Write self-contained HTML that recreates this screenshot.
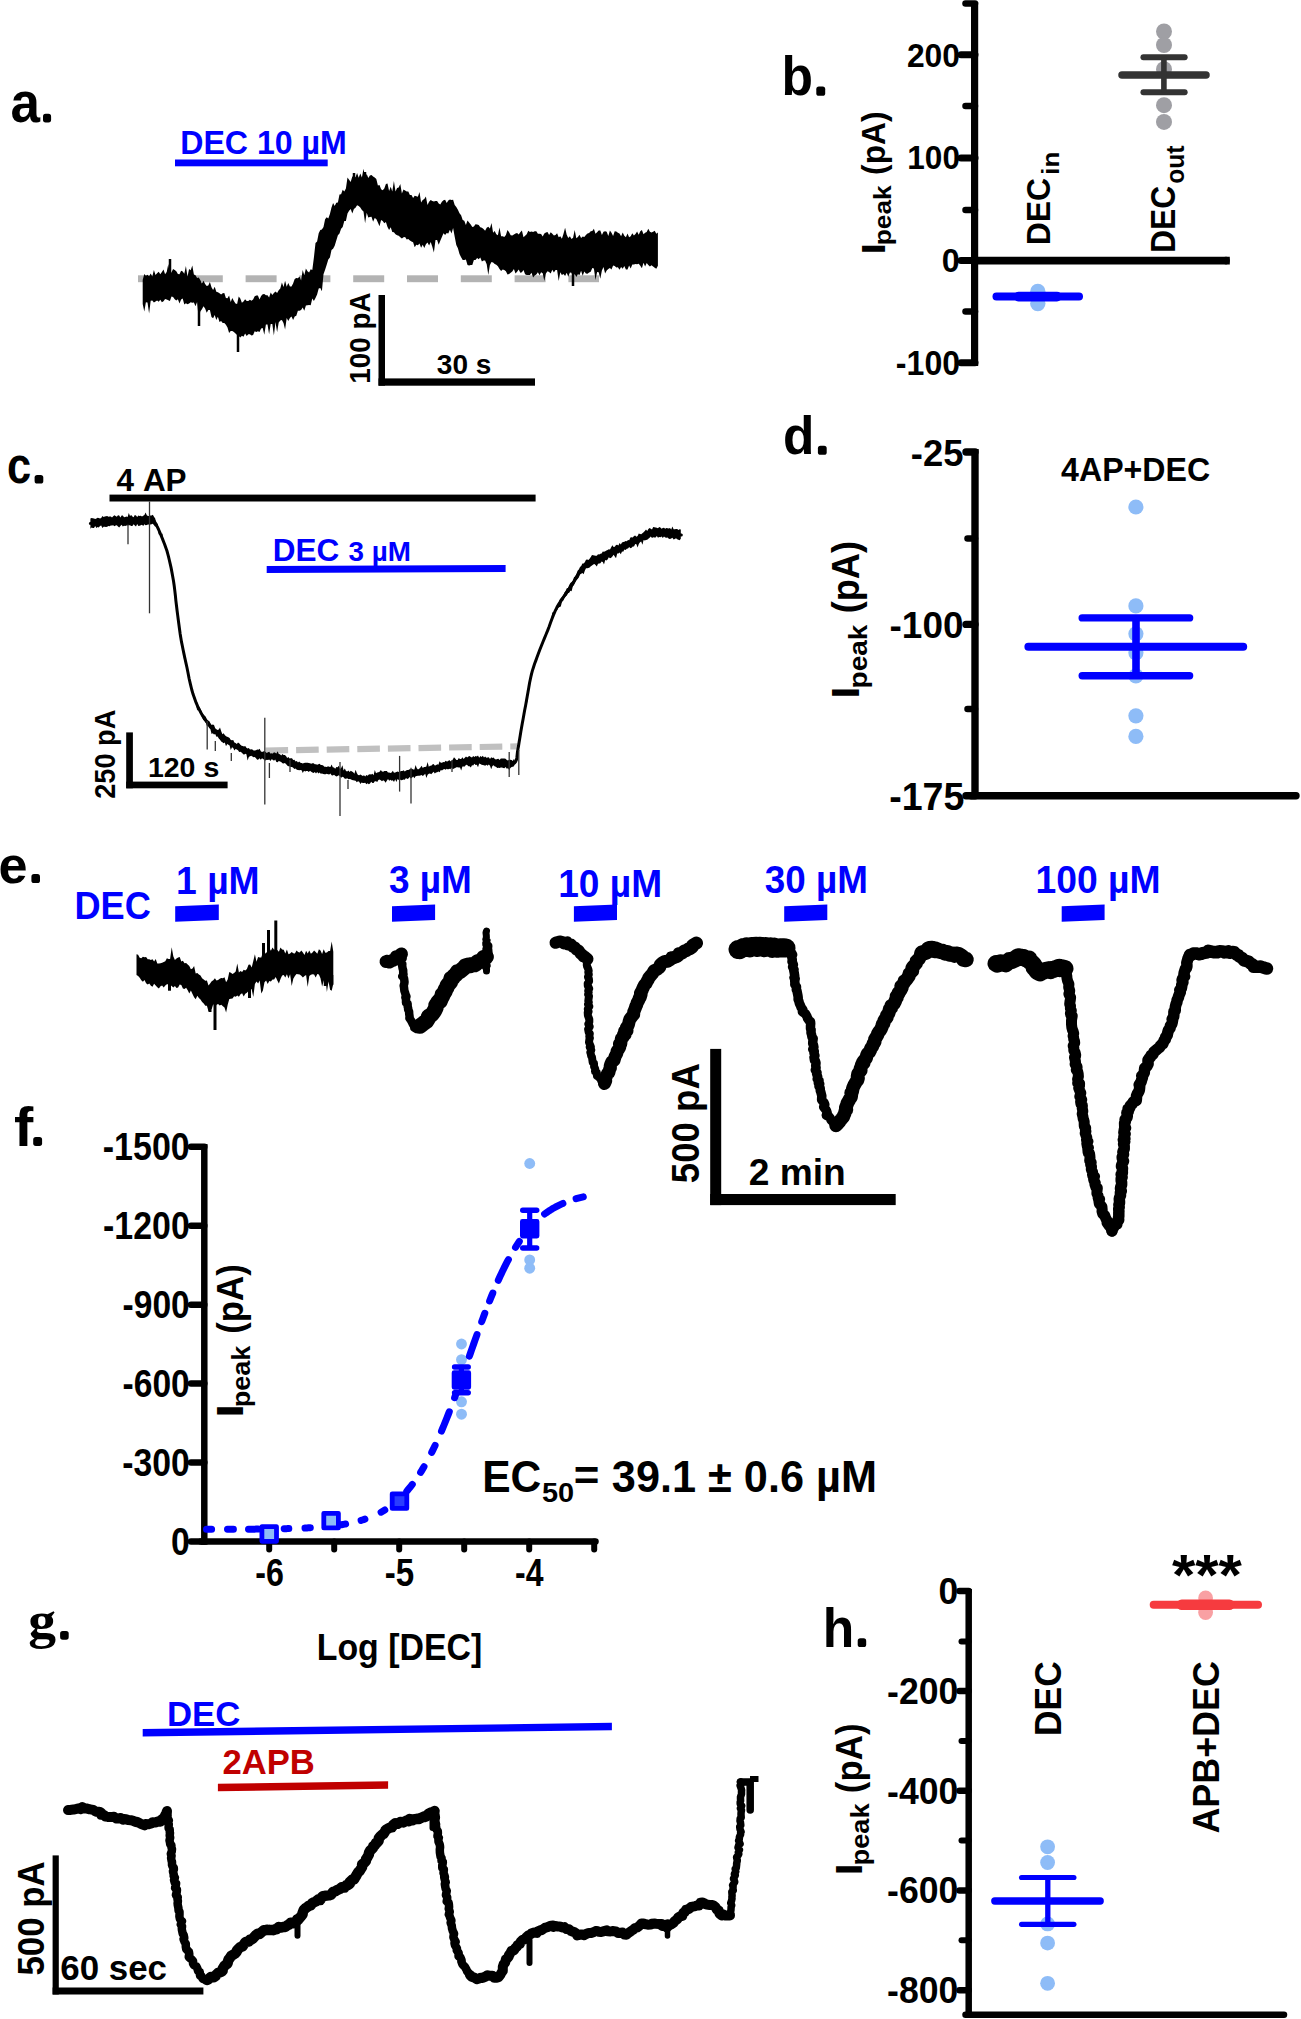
<!DOCTYPE html>
<html><head><meta charset="utf-8"><style>html,body{margin:0;padding:0;background:#fff;}svg{display:block;}</style></head>
<body>
<svg width="1301" height="2019" viewBox="0 0 1301 2019">
<rect width="1301" height="2019" fill="#fff"/>
<text font-family="Liberation Sans" font-weight="bold" font-size="57.50" fill="#000" style="font-kerning:none" transform="translate(10.55,121.84) scale(0.9231,1)">a</text>
<rect x="43" y="113.8" width="8.10" height="8.60" rx="2.6" fill="#000"/>
<text font-family="Liberation Sans" font-weight="bold" font-size="32.34" fill="#0000ff" style="font-kerning:none" transform="translate(180.25,153.98) scale(0.9933,1)">DEC 10 µM</text>
<rect x="175" y="159.5" width="152.7" height="6.800000000000011" fill="#0000ff"/>
<rect x="138.0" y="275.3" width="31.0" height="6.899999999999977" fill="#b3b3b3"/>
<rect x="191.8" y="275.3" width="31.0" height="6.899999999999977" fill="#b3b3b3"/>
<rect x="245.6" y="275.3" width="31.00000000000003" height="6.899999999999977" fill="#b3b3b3"/>
<rect x="299.4" y="275.3" width="31.0" height="6.899999999999977" fill="#b3b3b3"/>
<rect x="353.2" y="275.3" width="31.0" height="6.899999999999977" fill="#b3b3b3"/>
<rect x="407.0" y="275.3" width="31.0" height="6.899999999999977" fill="#b3b3b3"/>
<rect x="460.79999999999995" y="275.3" width="31.0" height="6.899999999999977" fill="#b3b3b3"/>
<rect x="514.5999999999999" y="275.3" width="31.0" height="6.899999999999977" fill="#b3b3b3"/>
<rect x="568.4" y="275.3" width="30.600000000000023" height="6.899999999999977" fill="#b3b3b3"/>
<polygon points="142.7,279.9 144.3,273.9 145.9,275.8 147.5,274.8 149.1,276.2 150.7,273.6 152.3,276.4 153.9,270.1 155.5,275.0 157.1,273.3 158.7,271.7 160.3,274.3 161.9,272.1 163.5,269.5 165.1,274.2 166.7,272.1 168.3,264.0 169.9,274.0 171.5,272.2 173.1,269.0 174.7,270.0 176.3,271.3 177.9,274.0 179.5,274.3 181.1,270.7 182.7,271.4 184.3,273.7 185.9,266.1 187.5,276.5 189.1,268.9 190.7,270.3 192.3,265.4 193.9,274.6 195.5,275.2 197.1,278.1 198.7,277.5 200.3,279.9 201.9,283.5 203.5,280.7 205.1,284.0 206.7,286.1 208.3,285.5 209.9,282.1 211.5,287.2 213.1,290.1 214.7,286.7 216.3,291.8 217.9,292.3 219.5,293.3 221.1,294.5 222.7,293.3 224.3,293.0 225.9,298.0 227.5,298.2 229.1,295.5 230.7,301.9 232.3,298.1 233.9,301.0 235.5,303.5 237.1,304.1 238.7,296.4 240.3,298.6 241.9,302.7 243.5,301.4 245.1,299.3 246.7,300.9 248.3,301.0 249.9,299.7 251.5,300.7 253.1,299.4 254.7,296.3 256.3,295.5 257.9,295.6 259.5,299.4 261.1,296.1 262.7,294.3 264.3,294.1 265.9,295.2 267.5,295.2 269.1,297.4 270.7,292.5 272.3,295.1 273.9,293.0 275.5,291.4 277.1,293.0 278.7,290.3 280.3,288.4 281.9,282.4 283.5,286.9 285.1,280.8 286.7,286.7 288.3,283.1 289.9,286.6 291.5,286.6 293.1,283.5 294.7,279.1 296.3,278.1 297.9,278.3 299.5,276.5 301.1,280.4 302.7,270.0 304.3,275.3 305.9,268.4 307.5,271.2 309.1,272.5 310.7,269.3 312.3,270.0 313.9,257.6 315.5,243.1 317.1,241.4 318.7,233.3 320.3,230.0 321.9,229.6 323.5,226.9 325.1,219.3 326.7,217.3 328.3,218.6 329.9,214.0 331.5,207.4 333.1,202.9 334.7,206.1 336.3,202.8 337.9,202.6 339.5,194.5 341.1,194.2 342.7,189.8 344.3,191.5 345.9,188.5 347.5,177.5 349.1,179.7 350.7,181.9 352.3,176.5 353.9,176.5 355.5,177.2 357.1,172.9 358.7,177.7 360.3,173.5 361.9,177.4 363.5,168.7 365.1,177.5 366.7,174.0 368.3,177.9 369.9,175.5 371.5,174.9 373.1,176.5 374.7,177.6 376.3,179.0 377.9,185.4 379.5,184.9 381.1,189.2 382.7,190.2 384.3,188.4 385.9,184.0 387.5,183.5 389.1,191.0 390.7,186.7 392.3,191.6 393.9,181.1 395.5,191.6 397.1,188.0 398.7,187.4 400.3,183.9 401.9,193.5 403.5,189.6 405.1,190.4 406.7,191.5 408.3,191.4 409.9,195.1 411.5,195.0 413.1,197.9 414.7,195.7 416.3,196.3 417.9,196.8 419.5,192.1 421.1,202.6 422.7,200.0 424.3,198.9 425.9,196.4 427.5,205.1 429.1,201.7 430.7,200.1 432.3,201.1 433.9,201.4 435.5,201.1 437.1,201.0 438.7,203.5 440.3,204.5 441.9,201.7 443.5,200.2 445.1,199.7 446.7,203.1 448.3,200.5 449.9,199.6 451.5,200.1 453.1,199.7 454.7,205.0 456.3,207.0 457.9,209.8 459.5,213.2 461.1,215.2 462.7,220.0 464.3,220.8 465.9,224.9 467.5,220.4 469.1,222.5 470.7,224.4 472.3,227.1 473.9,226.5 475.5,224.3 477.1,224.6 478.7,224.9 480.3,227.3 481.9,227.7 483.5,228.9 485.1,230.7 486.7,227.8 488.3,226.8 489.9,228.5 491.5,223.1 493.1,232.8 494.7,231.1 496.3,234.3 497.9,235.2 499.5,227.4 501.1,236.3 502.7,236.2 504.3,237.0 505.9,235.1 507.5,230.0 509.1,232.2 510.7,235.3 512.3,235.5 513.9,234.6 515.5,233.4 517.1,233.1 518.7,234.6 520.3,232.2 521.9,230.4 523.5,237.3 525.1,235.8 526.7,234.2 528.3,230.7 529.9,231.9 531.5,231.6 533.1,232.1 534.7,231.3 536.3,231.2 537.9,233.8 539.5,233.7 541.1,234.1 542.7,236.5 544.3,233.4 545.9,232.5 547.5,231.9 549.1,235.0 550.7,232.3 552.3,233.8 553.9,235.4 555.5,234.9 557.1,233.2 558.7,237.3 560.3,236.3 561.9,238.8 563.5,233.7 565.1,227.7 566.7,234.8 568.3,238.1 569.9,236.3 571.5,239.0 573.1,237.8 574.7,230.1 576.3,238.2 577.9,236.9 579.5,234.7 581.1,237.9 582.7,236.6 584.3,237.0 585.9,235.0 587.5,233.6 589.1,232.9 590.7,231.3 592.3,230.9 593.9,228.8 595.5,233.8 597.1,232.2 598.7,230.4 600.3,230.6 601.9,234.9 603.5,231.7 605.1,231.2 606.7,231.7 608.3,235.9 609.9,230.6 611.5,232.7 613.1,236.1 614.7,231.2 616.3,231.4 617.9,232.8 619.5,233.5 621.1,236.2 622.7,232.5 624.3,235.8 625.9,237.3 627.5,233.6 629.1,237.3 630.7,236.3 632.3,233.3 633.9,235.4 635.5,234.0 637.1,231.5 638.7,234.7 640.3,231.2 641.9,230.0 643.5,234.2 645.1,232.8 646.7,232.1 648.3,228.7 649.9,231.7 651.5,232.5 653.1,231.7 654.7,230.7 656.3,233.8 657.9,232.5 657.9,265.7 656.3,268.7 654.7,267.7 653.1,266.6 651.5,265.3 649.9,266.5 648.3,264.9 646.7,262.9 645.1,266.4 643.5,262.8 641.9,268.3 640.3,265.8 638.7,263.8 637.1,264.2 635.5,264.0 633.9,264.5 632.3,264.6 630.7,268.4 629.1,265.4 627.5,269.4 625.9,269.4 624.3,266.1 622.7,268.7 621.1,267.0 619.5,269.7 617.9,267.3 616.3,267.5 614.7,266.1 613.1,265.6 611.5,269.6 609.9,268.1 608.3,268.9 606.7,270.4 605.1,273.5 603.5,267.1 601.9,270.4 600.3,278.7 598.7,272.2 597.1,272.1 595.5,279.9 593.9,268.4 592.3,267.9 590.7,271.7 589.1,272.6 587.5,273.8 585.9,273.4 584.3,271.6 582.7,275.8 581.1,270.7 579.5,274.9 577.9,274.2 576.3,277.1 574.7,273.9 573.1,277.4 571.5,272.7 569.9,272.6 568.3,276.8 566.7,272.8 565.1,275.9 563.5,274.1 561.9,274.9 560.3,272.3 558.7,281.0 557.1,270.0 555.5,269.9 553.9,272.6 552.3,269.8 550.7,273.6 549.1,271.9 547.5,271.3 545.9,273.4 544.3,281.1 542.7,273.2 541.1,272.2 539.5,275.2 537.9,272.2 536.3,274.6 534.7,275.4 533.1,277.4 531.5,272.7 529.9,274.9 528.3,275.0 526.7,275.1 525.1,274.2 523.5,270.0 521.9,272.2 520.3,272.8 518.7,269.6 517.1,271.8 515.5,273.6 513.9,269.1 512.3,271.6 510.7,272.8 509.1,274.0 507.5,274.4 505.9,271.3 504.3,270.1 502.7,269.6 501.1,271.0 499.5,269.1 497.9,266.3 496.3,264.8 494.7,263.9 493.1,262.6 491.5,262.0 489.9,264.9 488.3,275.0 486.7,264.2 485.1,260.4 483.5,260.5 481.9,261.4 480.3,257.5 478.7,259.3 477.1,257.9 475.5,259.9 473.9,260.1 472.3,265.0 470.7,265.0 469.1,265.6 467.5,264.9 465.9,259.6 464.3,260.0 462.7,260.1 461.1,257.2 459.5,254.0 457.9,248.3 456.3,244.9 454.7,236.8 453.1,227.9 451.5,233.5 449.9,229.7 448.3,233.5 446.7,233.1 445.1,234.9 443.5,233.2 441.9,237.0 440.3,240.8 438.7,244.7 437.1,239.9 435.5,239.9 433.9,252.5 432.3,246.7 430.7,242.0 429.1,245.4 427.5,242.6 425.9,244.2 424.3,247.9 422.7,244.8 421.1,247.8 419.5,243.5 417.9,245.3 416.3,244.7 414.7,247.3 413.1,242.2 411.5,241.4 409.9,240.6 408.3,238.9 406.7,239.5 405.1,237.0 403.5,237.3 401.9,238.6 400.3,237.2 398.7,235.7 397.1,235.3 395.5,234.2 393.9,232.3 392.3,232.0 390.7,227.2 389.1,230.0 387.5,226.9 385.9,222.1 384.3,223.3 382.7,221.0 381.1,219.9 379.5,226.3 377.9,222.5 376.3,218.9 374.7,218.1 373.1,221.8 371.5,216.7 369.9,216.9 368.3,217.6 366.7,212.8 365.1,223.3 363.5,211.5 361.9,210.0 360.3,207.6 358.7,205.9 357.1,205.2 355.5,207.8 353.9,209.0 352.3,213.4 350.7,208.9 349.1,210.8 347.5,213.4 345.9,220.9 344.3,221.0 342.7,227.1 341.1,228.8 339.5,233.4 337.9,235.3 336.3,240.6 334.7,245.8 333.1,248.8 331.5,250.1 329.9,257.5 328.3,259.6 326.7,264.7 325.1,269.7 323.5,274.2 321.9,291.3 320.3,287.9 318.7,288.6 317.1,294.6 315.5,298.0 313.9,301.0 312.3,298.4 310.7,305.3 309.1,304.9 307.5,305.3 305.9,305.4 304.3,310.8 302.7,307.6 301.1,310.0 299.5,310.7 297.9,310.8 296.3,315.7 294.7,316.4 293.1,319.9 291.5,316.6 289.9,317.9 288.3,321.1 286.7,318.1 285.1,329.4 283.5,323.0 281.9,320.1 280.3,320.6 278.7,322.5 277.1,332.2 275.5,321.9 273.9,335.4 272.3,324.1 270.7,323.9 269.1,334.3 267.5,324.5 265.9,324.6 264.3,334.8 262.7,327.9 261.1,328.6 259.5,332.1 257.9,331.3 256.3,331.9 254.7,331.3 253.1,335.1 251.5,335.5 249.9,334.2 248.3,334.3 246.7,336.1 245.1,333.5 243.5,336.8 241.9,335.7 240.3,337.4 238.7,336.0 237.1,335.0 235.5,333.6 233.9,332.0 232.3,330.9 230.7,331.0 229.1,332.9 227.5,327.6 225.9,324.8 224.3,323.1 222.7,323.1 221.1,321.1 219.5,322.1 217.9,316.8 216.3,320.1 214.7,314.9 213.1,318.2 211.5,316.9 209.9,310.1 208.3,310.1 206.7,312.7 205.1,308.4 203.5,306.3 201.9,309.3 200.3,311.6 198.7,318.5 197.1,302.1 195.5,306.3 193.9,302.4 192.3,302.7 190.7,302.2 189.1,303.6 187.5,304.3 185.9,303.2 184.3,304.6 182.7,298.6 181.1,299.6 179.5,303.6 177.9,299.3 176.3,300.6 174.7,299.3 173.1,297.0 171.5,296.4 169.9,301.0 168.3,300.3 166.7,299.4 165.1,298.9 163.5,301.3 161.9,302.2 160.3,299.7 158.7,301.7 157.1,300.4 155.5,301.5 153.9,302.5 152.3,300.6 150.7,300.7 149.1,313.5 147.5,302.4 145.9,302.2 144.3,311.4 142.7,303.9" fill="#000"/>
<line x1="170" y1="259" x2="170" y2="275" stroke="#000" stroke-width="2.5" stroke-linecap="butt"/>
<line x1="199" y1="300" x2="199" y2="326" stroke="#000" stroke-width="2.5" stroke-linecap="butt"/>
<line x1="238" y1="320" x2="238" y2="352" stroke="#000" stroke-width="2.5" stroke-linecap="butt"/>
<line x1="573" y1="265" x2="573" y2="286" stroke="#000" stroke-width="2.5" stroke-linecap="butt"/>
<line x1="354" y1="173" x2="354" y2="190" stroke="#000" stroke-width="2.5" stroke-linecap="butt"/>
<line x1="365" y1="172" x2="365" y2="190" stroke="#000" stroke-width="2.5" stroke-linecap="butt"/>
<rect x="378.5" y="295" width="6.5" height="90.69999999999999" fill="#000"/>
<rect x="378.5" y="378.4" width="156.5" height="7.300000000000011" fill="#000"/>
<text font-family="Liberation Sans" font-weight="bold" font-size="28.81" fill="#000" style="font-kerning:none" transform="translate(370.22,383.75) rotate(-90) scale(0.9661,1)">100 pA</text>
<text font-family="Liberation Sans" font-weight="bold" font-size="28.47" fill="#000" style="font-kerning:none" transform="translate(436.86,373.98) scale(0.9852,1)">30 s</text>
<text font-family="Liberation Sans" font-weight="bold" font-size="54.74" fill="#000" style="font-kerning:none" transform="translate(781.60,95.27) scale(0.9426,1)">b</text>
<rect x="816.3" y="86.6" width="8.90" height="9.20" rx="2.6" fill="#000"/>
<line x1="974.6" y1="2" x2="974.6" y2="366" stroke="#000" stroke-width="7.2" stroke-linecap="butt"/>
<line x1="961" y1="54.7" x2="975" y2="54.7" stroke="#000" stroke-width="7" stroke-linecap="round"/>
<line x1="961" y1="158" x2="975" y2="158" stroke="#000" stroke-width="7" stroke-linecap="round"/>
<line x1="961" y1="260.6" x2="975" y2="260.6" stroke="#000" stroke-width="7" stroke-linecap="round"/>
<line x1="961" y1="362.7" x2="975" y2="362.7" stroke="#000" stroke-width="7" stroke-linecap="round"/>
<line x1="965.5" y1="3.5" x2="975" y2="3.5" stroke="#000" stroke-width="6.5" stroke-linecap="round"/>
<line x1="965.5" y1="106" x2="975" y2="106" stroke="#000" stroke-width="6.5" stroke-linecap="round"/>
<line x1="965.5" y1="210" x2="975" y2="210" stroke="#000" stroke-width="6.5" stroke-linecap="round"/>
<line x1="965.5" y1="311.5" x2="975" y2="311.5" stroke="#000" stroke-width="6.5" stroke-linecap="round"/>
<text font-family="Liberation Sans" font-weight="bold" font-size="33.47" fill="#000" style="font-kerning:none" transform="translate(906.90,66.77) scale(0.9509,1)">200</text>
<text font-family="Liberation Sans" font-weight="bold" font-size="33.62" fill="#000" style="font-kerning:none" transform="translate(907.31,169.37) scale(0.9393,1)">100</text>
<text font-family="Liberation Sans" font-weight="bold" font-size="33.05" fill="#000" style="font-kerning:none" transform="translate(941.72,272.28) scale(0.9797,1)">0</text>
<text font-family="Liberation Sans" font-weight="bold" font-size="34.30" fill="#000" style="font-kerning:none" transform="translate(895.85,374.70) scale(0.9361,1)">-100</text>
<line x1="971" y1="260.6" x2="1229.8" y2="260.6" stroke="#000" stroke-width="7.6" stroke-linecap="butt"/>
<circle cx="1226" cy="260.6" r="3.8" fill="#000"/>
<text font-family="Liberation Sans" font-weight="bold" font-size="34.01" fill="#000" style="font-kerning:none" transform="translate(884.50,254.59) rotate(-90) scale(1.2247,1)">I</text>
<text font-family="Liberation Sans" font-weight="bold" font-size="23.69" fill="#000" style="font-kerning:none" transform="translate(891.37,245.24) rotate(-90) scale(1.1112,1)">peak</text>
<text font-family="Liberation Sans" font-weight="bold" font-size="34.01" fill="#000" style="font-kerning:none" transform="translate(884.50,174.88) rotate(-90) scale(0.9318,1)">(pA)</text>
<text font-family="Liberation Sans" font-weight="bold" font-size="33.87" fill="#000" style="font-kerning:none" transform="translate(1049.70,245.33) rotate(-90) scale(0.9413,1)">DEC</text>
<text font-family="Liberation Sans" font-weight="bold" font-size="24.56" fill="#000" style="font-kerning:none" transform="translate(1058.50,174.81) rotate(-90) scale(1.0542,1)">in</text>
<text font-family="Liberation Sans" font-weight="bold" font-size="34.30" fill="#000" style="font-kerning:none" transform="translate(1175.00,253.03) rotate(-90) scale(0.9279,1)">DEC</text>
<text font-family="Liberation Sans" font-weight="bold" font-size="25.68" fill="#000" style="font-kerning:none" transform="translate(1183.75,183.86) rotate(-90) scale(0.9611,1)">out</text>
<circle cx="1164" cy="31.5" r="8" fill="#9f9fa4"/>
<circle cx="1164" cy="45" r="8" fill="#9f9fa4"/>
<circle cx="1164" cy="69.2" r="8" fill="#9f9fa4"/>
<circle cx="1164" cy="105.2" r="8" fill="#9f9fa4"/>
<circle cx="1164" cy="121.9" r="8" fill="#9f9fa4"/>
<line x1="1122" y1="75.1" x2="1206" y2="75.1" stroke="#333333" stroke-width="7.5" stroke-linecap="round"/>
<line x1="1143.4" y1="57.3" x2="1184.7" y2="57.3" stroke="#333333" stroke-width="5.9" stroke-linecap="round"/>
<line x1="1143.4" y1="92.3" x2="1184.7" y2="92.3" stroke="#333333" stroke-width="5.9" stroke-linecap="round"/>
<line x1="1163.9" y1="57.3" x2="1163.9" y2="92.3" stroke="#333333" stroke-width="5.6" stroke-linecap="butt"/>
<circle cx="1037.8" cy="291.5" r="7.7" fill="#8ebcf7"/>
<circle cx="1037.8" cy="303.5" r="7.7" fill="#8ebcf7"/>
<line x1="996.5" y1="296.6" x2="1079" y2="296.6" stroke="#0000ff" stroke-width="8" stroke-linecap="round"/>
<line x1="1018.5" y1="296.6" x2="1057" y2="296.6" stroke="#0000ff" stroke-width="9.8" stroke-linecap="round"/>
<text font-family="Liberation Sans" font-weight="bold" font-size="51.29" fill="#000" style="font-kerning:none" transform="translate(7.10,483.00) scale(0.8473,1)">c</text>
<rect x="34.6" y="475" width="8.70" height="8.50" rx="2.6" fill="#000"/>
<text font-family="Liberation Sans" font-weight="bold" font-size="32.12" fill="#000" style="font-kerning:none" transform="translate(116.62,491.00) scale(0.9810,1)">4 AP</text>
<rect x="109.5" y="494.6" width="426.1" height="6.899999999999977" fill="#000"/>
<text font-family="Liberation Sans" font-weight="bold" font-size="32.20" fill="#0000ff" style="font-kerning:none" transform="translate(272.69,560.79) scale(0.9791,1)">DEC</text>
<text font-family="Liberation Sans" font-weight="bold" font-size="27.18" fill="#0000ff" style="font-kerning:none" transform="translate(348.56,560.80) scale(1.0234,1)">3 µM</text>
<polygon points="266.7,565.9 505.6,564.9 505.6,572.1 266.7,573" fill="#0000ff"/>
<line x1="265.5" y1="750.6" x2="288.1" y2="750.2" stroke="#c0c0c0" stroke-width="6.2"/>
<line x1="296.1" y1="750.1" x2="318.7" y2="749.7" stroke="#c0c0c0" stroke-width="6.2"/>
<line x1="326.7" y1="749.6" x2="349.3" y2="749.2" stroke="#c0c0c0" stroke-width="6.2"/>
<line x1="357.3" y1="749.1" x2="379.9" y2="748.7" stroke="#c0c0c0" stroke-width="6.2"/>
<line x1="387.9" y1="748.6" x2="410.5" y2="748.2" stroke="#c0c0c0" stroke-width="6.2"/>
<line x1="418.5" y1="748.1" x2="441.1" y2="747.7" stroke="#c0c0c0" stroke-width="6.2"/>
<line x1="449.1" y1="747.5" x2="471.7" y2="747.2" stroke="#c0c0c0" stroke-width="6.2"/>
<line x1="479.7" y1="747.0" x2="502.3" y2="746.7" stroke="#c0c0c0" stroke-width="6.2"/>
<line x1="510.3" y1="746.5" x2="518.0" y2="746.4" stroke="#c0c0c0" stroke-width="6.2"/>
<polygon points="90.4,518.6 91.6,518.0 92.8,518.2 94.0,518.6 95.2,519.1 96.4,518.5 97.6,517.8 98.8,517.9 100.0,518.5 101.2,517.9 102.4,516.1 103.6,516.9 104.8,516.4 106.0,516.3 107.2,516.0 108.4,516.7 109.6,516.4 110.8,516.6 112.0,517.4 113.2,516.3 114.4,515.3 115.6,516.0 116.8,516.8 118.0,515.3 119.2,515.5 120.4,517.4 121.6,515.4 122.8,515.4 124.0,517.2 125.2,517.1 126.4,516.6 127.6,517.1 128.8,512.9 130.0,516.1 131.2,514.9 132.4,516.5 133.6,517.2 134.8,514.9 136.0,515.6 137.2,516.9 138.4,515.6 139.6,516.0 140.8,515.7 142.0,516.5 143.2,515.7 144.4,515.1 145.6,512.5 146.8,515.3 148.0,516.0 149.2,515.9 150.4,515.4 151.6,515.6 152.8,514.8 154.0,516.8 155.2,518.4 156.4,523.4 157.6,523.8 158.8,529.0 160.0,531.8 161.2,534.3 162.4,533.6 163.6,541.7 164.8,542.6 166.0,546.2 167.2,551.5 168.4,555.5 169.6,560.0 170.8,566.1 172.0,570.5 173.2,578.2 174.4,586.9 175.6,596.3 176.8,607.7 178.0,617.7 179.2,626.1 180.4,633.5 181.6,641.5 182.8,646.6 184.0,653.0 185.2,659.1 186.4,664.8 187.6,669.4 188.8,674.9 190.0,681.4 191.2,685.6 192.4,689.7 193.6,694.8 194.8,698.0 196.0,700.3 197.2,703.4 198.4,705.8 199.6,707.6 200.8,709.4 202.0,712.5 203.2,714.2 204.4,715.6 205.6,716.6 206.8,718.9 208.0,720.6 209.2,721.0 210.4,723.2 211.6,725.0 212.8,724.6 214.0,724.9 215.2,728.3 216.4,729.3 217.6,730.0 218.8,729.5 220.0,727.4 221.2,731.2 222.4,734.2 223.6,733.2 224.8,734.9 226.0,736.2 227.2,736.8 228.4,737.3 229.6,738.0 230.8,740.1 232.0,740.3 233.2,740.1 234.4,742.6 235.6,743.0 236.8,743.9 238.0,742.6 239.2,743.3 240.4,744.8 241.6,745.7 242.8,746.0 244.0,746.6 245.2,746.1 246.4,747.8 247.6,748.6 248.8,748.1 250.0,749.4 251.2,749.2 252.4,749.4 253.6,750.6 254.8,750.6 256.0,750.3 257.2,749.4 258.4,749.8 259.6,748.7 260.8,751.3 262.0,751.9 263.2,751.6 264.4,750.9 265.6,752.1 266.8,753.1 268.0,752.2 269.2,751.8 270.4,753.4 271.6,753.2 272.8,753.5 274.0,752.3 275.2,752.8 276.4,753.6 277.6,751.3 278.8,754.0 280.0,754.3 281.2,755.5 282.4,754.0 283.6,754.9 284.8,755.1 286.0,756.1 287.2,758.0 288.4,757.0 289.6,758.6 290.8,758.2 292.0,758.2 293.2,760.0 294.4,759.8 295.6,761.6 296.8,761.0 298.0,762.6 299.2,761.4 300.4,762.8 301.6,762.9 302.8,763.5 304.0,762.9 305.2,762.7 306.4,762.7 307.6,762.7 308.8,762.9 310.0,763.3 311.2,763.8 312.4,763.3 313.6,763.2 314.8,764.2 316.0,764.3 317.2,764.8 318.4,764.2 319.6,763.7 320.8,765.1 322.0,764.9 323.2,765.4 324.4,766.7 325.6,766.7 326.8,766.9 328.0,766.2 329.2,766.7 330.4,767.0 331.6,764.5 332.8,767.3 334.0,767.4 335.2,768.8 336.4,767.0 337.6,767.3 338.8,765.7 340.0,769.1 341.2,767.9 342.4,765.3 343.6,770.5 344.8,768.6 346.0,771.0 347.2,771.5 348.4,770.4 349.6,772.0 350.8,770.8 352.0,771.5 353.2,772.2 354.4,773.7 355.6,769.8 356.8,773.0 358.0,775.0 359.2,775.3 360.4,774.6 361.6,775.3 362.8,775.9 364.0,775.3 365.2,776.6 366.4,775.1 367.6,775.8 368.8,774.6 370.0,774.3 371.2,774.4 372.4,773.7 373.6,775.2 374.8,769.9 376.0,773.2 377.2,772.6 378.4,772.2 379.6,771.8 380.8,770.1 382.0,771.6 383.2,771.7 384.4,771.0 385.6,771.0 386.8,771.1 388.0,772.6 389.2,772.6 390.4,773.0 391.6,772.5 392.8,770.8 394.0,772.8 395.2,772.5 396.4,772.0 397.6,771.4 398.8,772.1 400.0,771.5 401.2,770.9 402.4,770.9 403.6,770.3 404.8,771.6 406.0,770.5 407.2,769.9 408.4,770.0 409.6,769.2 410.8,769.0 412.0,768.8 413.2,769.6 414.4,769.6 415.6,765.1 416.8,768.3 418.0,769.5 419.2,768.8 420.4,767.5 421.6,765.8 422.8,768.1 424.0,767.1 425.2,767.0 426.4,766.4 427.6,762.0 428.8,766.7 430.0,765.7 431.2,765.8 432.4,764.6 433.6,764.1 434.8,765.6 436.0,765.3 437.2,764.3 438.4,764.7 439.6,761.3 440.8,762.8 442.0,762.8 443.2,762.1 444.4,762.2 445.6,760.8 446.8,761.6 448.0,761.2 449.2,759.9 450.4,761.2 451.6,760.9 452.8,759.4 454.0,757.3 455.2,758.5 456.4,759.9 457.6,760.1 458.8,758.1 460.0,759.1 461.2,759.0 462.4,757.3 463.6,759.1 464.8,757.7 466.0,756.5 467.2,757.6 468.4,756.4 469.6,755.9 470.8,757.0 472.0,757.6 473.2,756.0 474.4,757.0 475.6,756.1 476.8,756.5 478.0,755.4 479.2,757.8 480.4,756.1 481.6,756.9 482.8,755.8 484.0,757.6 485.2,756.6 486.4,757.7 487.6,757.4 488.8,757.3 490.0,758.9 491.2,757.3 492.4,758.0 493.6,757.4 494.8,758.9 496.0,759.6 497.2,758.9 498.4,758.7 499.6,759.9 500.8,758.5 502.0,758.5 503.2,758.6 504.4,758.5 505.6,758.8 506.8,760.1 508.0,760.6 509.2,759.7 510.4,759.7 511.6,760.0 512.8,761.0 514.0,758.8 515.2,761.5 516.4,758.5 517.6,750.2 518.8,743.5 520.0,736.3 521.2,728.4 522.4,721.9 523.6,714.2 524.8,707.3 526.0,702.9 527.2,695.8 528.4,687.6 529.6,681.1 530.8,676.7 532.0,671.2 533.2,666.5 534.4,662.4 535.6,659.0 536.8,655.9 538.0,652.4 539.2,650.6 540.4,646.9 541.6,644.2 542.8,640.3 544.0,639.0 545.2,634.7 546.4,631.1 547.6,628.3 548.8,625.7 550.0,623.9 551.2,619.8 552.4,611.9 553.6,613.8 554.8,609.8 556.0,607.9 557.2,604.8 558.4,603.7 559.6,599.8 560.8,598.3 562.0,597.1 563.2,596.0 564.4,592.6 565.6,591.0 566.8,588.3 568.0,587.9 569.2,584.9 570.4,582.9 571.6,582.1 572.8,580.8 574.0,577.2 575.2,576.2 576.4,574.0 577.6,570.8 578.8,569.4 580.0,566.9 581.2,565.9 582.4,563.4 583.6,563.6 584.8,562.3 586.0,559.8 587.2,559.5 588.4,560.0 589.6,558.8 590.8,557.1 592.0,554.9 593.2,555.3 594.4,555.5 595.6,555.8 596.8,555.7 598.0,554.2 599.2,554.4 600.4,553.7 601.6,553.5 602.8,551.4 604.0,551.8 605.2,551.2 606.4,550.6 607.6,550.1 608.8,549.2 610.0,549.5 611.2,547.3 612.4,545.2 613.6,547.0 614.8,546.7 616.0,545.0 617.2,544.7 618.4,545.6 619.6,543.0 620.8,544.4 622.0,542.6 623.2,542.0 624.4,541.8 625.6,540.9 626.8,541.2 628.0,540.1 629.2,540.2 630.4,537.6 631.6,537.3 632.8,537.4 634.0,536.1 635.2,535.5 636.4,536.7 637.6,536.0 638.8,533.4 640.0,534.1 641.2,534.3 642.4,533.3 643.6,532.2 644.8,531.1 646.0,529.5 647.2,531.0 648.4,529.0 649.6,528.0 650.8,528.7 652.0,529.4 653.2,527.1 654.4,527.3 655.6,527.6 656.8,527.7 658.0,528.3 659.2,527.1 660.4,527.4 661.6,528.8 662.8,528.1 664.0,527.8 665.2,528.7 666.4,528.0 667.6,528.2 668.8,528.5 670.0,528.1 671.2,529.6 672.4,526.5 673.6,529.2 674.8,529.2 676.0,528.9 677.2,529.0 678.4,529.9 679.6,529.2 680.8,529.6 680.8,538.7 679.6,540.3 678.4,539.8 677.2,539.2 676.0,538.2 674.8,538.9 673.6,539.4 672.4,537.8 671.2,538.6 670.0,539.1 668.8,538.8 667.6,537.5 666.4,537.7 665.2,537.6 664.0,536.4 662.8,538.1 661.6,536.4 660.4,537.3 659.2,537.1 658.0,537.7 656.8,535.9 655.6,537.6 654.4,537.4 653.2,537.3 652.0,538.1 650.8,536.4 649.6,537.7 648.4,538.7 647.2,539.7 646.0,540.0 644.8,540.5 643.6,540.0 642.4,544.7 641.2,541.6 640.0,542.3 638.8,544.1 637.6,547.4 636.4,544.2 635.2,544.1 634.0,546.4 632.8,546.6 631.6,547.8 630.4,548.3 629.2,547.0 628.0,548.6 626.8,548.8 625.6,550.0 624.4,549.4 623.2,551.8 622.0,551.6 620.8,554.3 619.6,552.4 618.4,553.6 617.2,553.5 616.0,558.3 614.8,556.5 613.6,554.8 612.4,556.6 611.2,557.8 610.0,558.3 608.8,557.2 607.6,559.6 606.4,560.4 605.2,560.0 604.0,564.4 602.8,561.9 601.6,561.5 600.4,563.3 599.2,563.6 598.0,563.8 596.8,566.4 595.6,565.1 594.4,564.1 593.2,564.4 592.0,565.4 590.8,566.3 589.6,567.5 588.4,568.0 587.2,568.2 586.0,568.3 584.8,570.8 583.6,574.3 582.4,573.1 581.2,573.8 580.0,574.5 578.8,577.6 577.6,579.1 576.4,580.3 575.2,582.4 574.0,585.0 572.8,586.6 571.6,591.2 570.4,590.7 569.2,592.7 568.0,593.2 566.8,595.4 565.6,596.5 564.4,598.1 563.2,600.8 562.0,601.7 560.8,606.4 559.6,607.0 558.4,607.8 557.2,609.9 556.0,611.2 554.8,612.9 553.6,615.5 552.4,618.4 551.2,621.4 550.0,624.6 548.8,629.8 547.6,631.1 546.4,635.8 545.2,636.6 544.0,639.9 542.8,644.5 541.6,646.4 540.4,650.5 539.2,653.4 538.0,656.7 536.8,660.2 535.6,661.6 534.4,665.1 533.2,670.3 532.0,675.9 530.8,677.4 529.6,684.8 528.4,692.0 527.2,702.2 526.0,704.1 524.8,711.0 523.6,719.5 522.4,724.8 521.2,734.4 520.0,739.4 518.8,746.2 517.6,752.1 516.4,761.2 515.2,762.5 514.0,766.3 512.8,766.8 511.6,766.9 510.4,768.1 509.2,769.9 508.0,768.3 506.8,768.8 505.6,766.9 504.4,768.2 503.2,767.9 502.0,767.4 500.8,767.6 499.6,767.9 498.4,767.7 497.2,767.9 496.0,766.8 494.8,766.5 493.6,765.2 492.4,765.9 491.2,769.2 490.0,765.7 488.8,764.5 487.6,765.7 486.4,764.8 485.2,765.8 484.0,765.3 482.8,765.0 481.6,764.8 480.4,764.1 479.2,763.6 478.0,767.2 476.8,764.8 475.6,764.9 474.4,763.7 473.2,765.6 472.0,765.3 470.8,767.5 469.6,766.2 468.4,766.2 467.2,765.0 466.0,764.7 464.8,766.6 463.6,766.5 462.4,766.4 461.2,770.4 460.0,767.5 458.8,767.5 457.6,767.3 456.4,767.2 455.2,767.9 454.0,768.6 452.8,769.2 451.6,767.4 450.4,769.3 449.2,768.8 448.0,769.4 446.8,768.8 445.6,769.8 444.4,769.1 443.2,769.4 442.0,770.5 440.8,770.0 439.6,772.2 438.4,771.5 437.2,772.2 436.0,772.5 434.8,773.5 433.6,771.8 432.4,773.0 431.2,774.2 430.0,773.5 428.8,773.8 427.6,774.8 426.4,778.0 425.2,773.8 424.0,775.1 422.8,775.9 421.6,775.0 420.4,775.6 419.2,775.8 418.0,775.7 416.8,776.0 415.6,776.2 414.4,778.3 413.2,776.4 412.0,777.8 410.8,778.5 409.6,777.1 408.4,778.4 407.2,779.1 406.0,778.1 404.8,779.8 403.6,779.5 402.4,780.0 401.2,780.3 400.0,779.4 398.8,780.0 397.6,778.9 396.4,781.9 395.2,779.2 394.0,782.0 392.8,780.3 391.6,780.7 390.4,779.8 389.2,780.8 388.0,779.0 386.8,780.8 385.6,782.7 384.4,781.0 383.2,780.2 382.0,781.2 380.8,780.2 379.6,779.6 378.4,780.0 377.2,782.0 376.0,781.3 374.8,781.3 373.6,782.9 372.4,783.1 371.2,781.8 370.0,783.4 368.8,784.3 367.6,783.2 366.4,784.3 365.2,782.8 364.0,783.0 362.8,782.9 361.6,782.6 360.4,784.0 359.2,781.8 358.0,781.3 356.8,782.3 355.6,780.7 354.4,780.5 353.2,780.2 352.0,780.1 350.8,779.2 349.6,779.1 348.4,779.2 347.2,778.3 346.0,778.8 344.8,778.7 343.6,777.3 342.4,776.8 341.2,777.8 340.0,776.2 338.8,775.3 337.6,776.1 336.4,776.4 335.2,775.7 334.0,774.8 332.8,775.5 331.6,775.3 330.4,773.5 329.2,774.6 328.0,774.2 326.8,773.8 325.6,774.2 324.4,774.3 323.2,774.1 322.0,773.4 320.8,773.8 319.6,772.4 318.4,773.6 317.2,772.1 316.0,773.4 314.8,772.0 313.6,772.9 312.4,772.6 311.2,771.8 310.0,770.7 308.8,772.0 307.6,770.9 306.4,770.9 305.2,771.5 304.0,770.7 302.8,772.9 301.6,770.2 300.4,770.1 299.2,770.2 298.0,770.0 296.8,769.7 295.6,768.6 294.4,769.0 293.2,767.8 292.0,767.0 290.8,766.9 289.6,766.2 288.4,766.2 287.2,765.4 286.0,764.0 284.8,763.1 283.6,763.4 282.4,763.2 281.2,761.9 280.0,761.4 278.8,761.0 277.6,762.2 276.4,762.0 275.2,759.6 274.0,760.7 272.8,759.8 271.6,759.3 270.4,761.0 269.2,759.6 268.0,759.9 266.8,759.8 265.6,760.5 264.4,760.0 263.2,759.1 262.0,758.3 260.8,759.7 259.6,758.3 258.4,759.5 257.2,759.7 256.0,758.3 254.8,756.9 253.6,757.3 252.4,756.4 251.2,755.8 250.0,756.3 248.8,757.1 247.6,760.4 246.4,754.2 245.2,753.8 244.0,754.8 242.8,753.8 241.6,752.5 240.4,751.8 239.2,751.9 238.0,750.2 236.8,749.6 235.6,749.0 234.4,750.4 233.2,747.9 232.0,747.2 230.8,749.9 229.6,745.6 228.4,744.7 227.2,743.9 226.0,746.2 224.8,742.6 223.6,743.2 222.4,742.2 221.2,741.4 220.0,739.8 218.8,738.4 217.6,736.4 216.4,736.7 215.2,734.0 214.0,734.4 212.8,733.3 211.6,733.9 210.4,729.2 209.2,728.1 208.0,726.1 206.8,725.8 205.6,721.9 204.4,720.5 203.2,720.1 202.0,717.0 200.8,713.4 199.6,712.3 198.4,708.5 197.2,710.7 196.0,704.2 194.8,700.6 193.6,697.9 192.4,693.8 191.2,689.2 190.0,684.0 188.8,678.6 187.6,671.2 186.4,667.1 185.2,661.6 184.0,659.5 182.8,648.3 181.6,643.7 180.4,636.2 179.2,629.4 178.0,619.5 176.8,609.6 175.6,598.6 174.4,588.3 173.2,580.3 172.0,576.6 170.8,566.8 169.6,562.9 168.4,557.3 167.2,553.6 166.0,548.3 164.8,546.7 163.6,542.0 162.4,538.8 161.2,536.0 160.0,535.1 158.8,534.4 157.6,528.8 156.4,526.0 155.2,526.8 154.0,525.3 152.8,523.7 151.6,524.3 150.4,524.4 149.2,524.4 148.0,524.5 146.8,524.9 145.6,525.2 144.4,524.3 143.2,526.0 142.0,524.7 140.8,525.2 139.6,525.8 138.4,526.0 137.2,524.1 136.0,526.4 134.8,525.5 133.6,524.2 132.4,526.1 131.2,526.1 130.0,525.3 128.8,525.3 127.6,525.5 126.4,525.5 125.2,526.1 124.0,525.7 122.8,526.4 121.6,524.8 120.4,525.9 119.2,527.4 118.0,526.4 116.8,525.3 115.6,525.6 114.4,526.2 113.2,525.2 112.0,525.5 110.8,525.4 109.6,526.3 108.4,526.1 107.2,526.7 106.0,526.9 104.8,526.8 103.6,526.8 102.4,528.1 101.2,525.6 100.0,525.9 98.8,527.5 97.6,527.0 96.4,528.1 95.2,526.1 94.0,528.1 92.8,528.0 91.6,527.6 90.4,528.7" fill="#000"/>
<polyline points="90.4,523.4 91.4,523.2 92.6,523.0 94.1,522.8 95.9,522.5 97.9,522.2 100.0,522.0 102.3,521.8 104.9,521.6 107.6,521.4 110.5,521.3 113.6,521.1 116.9,521.0 120.5,520.9 124.6,520.8 128.8,520.7 132.9,520.7 136.8,520.6 140.0,520.5 142.6,520.3 144.9,520.0 146.8,519.8 148.4,519.6 149.9,519.5 151.3,519.7 152.5,520.0 153.3,520.5 154.0,521.0 154.6,521.8 155.3,523.0 156.2,524.6 157.3,526.8 158.6,529.5 159.9,532.6 161.2,535.8 162.5,538.9 163.6,541.8 164.6,544.3 165.4,546.6 166.2,548.8 167.0,551.0 167.7,553.6 168.5,556.6 169.3,560.0 170.2,563.8 171.1,567.9 171.9,572.1 172.7,576.5 173.5,581.0 174.2,585.7 174.8,590.6 175.4,595.7 175.9,600.8 176.5,605.8 177.1,610.7 177.7,615.4 178.3,620.0 178.9,624.5 179.5,629.0 180.1,633.4 180.8,637.7 181.5,641.9 182.3,645.8 183.1,649.7 183.9,653.6 184.8,657.8 185.8,662.3 186.9,667.3 188.0,672.8 189.1,678.5 190.4,684.1 191.7,689.5 193.1,694.3 194.6,698.6 196.1,702.7 197.7,706.4 199.4,709.9 201.2,713.3 203.0,716.4 204.9,719.3 206.9,722.1 209.0,724.6 211.1,726.9 213.2,729.1 215.3,731.2 217.4,733.2 219.4,734.9 221.5,736.6 223.5,738.1 225.6,739.6 227.6,741.0 229.7,742.4 231.7,743.7 233.8,745.0 235.8,746.2 237.8,747.3 239.9,748.4 242.0,749.4 244.0,750.3 246.1,751.2 248.1,751.9 250.2,752.7 252.2,753.3 254.2,753.9 256.2,754.3 258.2,754.8 260.3,755.1 262.3,755.5 264.5,755.8 266.7,756.1 268.9,756.2 271.1,756.3 273.5,756.5 275.9,756.9 278.6,757.5 281.4,758.5 284.4,759.8 287.5,761.3 290.8,762.9 294.2,764.3 297.7,765.4 301.4,766.2 305.3,766.9 309.3,767.4 313.4,767.9 317.5,768.4 321.5,769.0 325.5,769.7 329.6,770.5 333.7,771.3 337.7,772.1 341.6,772.9 345.3,773.8 348.8,774.8 352.1,776.0 355.3,777.2 358.4,778.4 361.4,779.2 364.4,779.7 367.2,779.7 369.8,779.2 372.4,778.6 375.0,777.8 377.8,777.0 381.0,776.5 384.6,776.2 388.4,776.0 392.5,775.9 396.7,775.7 400.8,775.4 404.9,775.0 408.9,774.4 412.8,773.6 416.8,772.8 420.8,771.9 424.7,770.9 428.7,770.0 432.7,769.1 436.6,768.0 440.6,767.0 444.6,766.0 448.5,765.0 452.5,764.2 456.5,763.4 460.5,762.6 464.5,761.9 468.4,761.3 472.4,760.8 476.4,760.6 480.5,760.7 484.7,761.0 488.9,761.6 493.0,762.2 496.8,762.7 500.2,763.0 503.3,763.3 506.1,763.7 508.6,764.0 510.9,764.1 512.9,763.9 514.5,763.0 515.7,761.5 516.5,759.6 516.9,757.2 517.2,754.5 517.5,751.7 518.0,748.7 518.6,745.6 519.1,742.3 519.7,738.8 520.3,735.1 520.9,731.2 521.6,727.3 522.3,723.2 523.1,718.9 523.9,714.5 524.7,710.0 525.6,705.5 526.4,701.0 527.2,696.5 528.0,691.9 528.8,687.4 529.6,682.8 530.5,678.5 531.4,674.4 532.4,670.6 533.5,667.2 534.6,663.8 535.8,660.6 537.0,657.2 538.3,653.7 539.7,650.0 541.2,646.2 542.8,642.3 544.4,638.4 546.0,634.5 547.6,630.6 549.1,626.7 550.5,622.8 551.9,619.0 553.4,615.1 555.0,611.3 556.8,607.6 558.8,604.0 561.1,600.5 563.4,597.1 565.8,593.7 568.2,590.2 570.6,586.8 572.9,583.2 575.1,579.4 577.3,575.7 579.5,572.1 581.9,568.8 584.5,566.0 587.3,563.8 590.3,562.1 593.4,560.7 596.6,559.4 599.8,558.2 602.9,556.8 606.0,555.3 609.1,553.7 612.1,552.2 615.2,550.7 618.3,549.1 621.4,547.6 624.5,546.0 627.7,544.4 630.9,542.8 634.0,541.2 637.0,539.7 639.8,538.4 642.2,537.1 644.2,535.9 646.1,534.8 648.1,533.8 650.5,533.1 653.6,532.6 657.7,532.6 662.8,532.9 668.3,533.4 673.6,534.1 678.1,534.6 681.3,535.0" fill="none" stroke="#000" stroke-width="3" stroke-linejoin="round" stroke-linecap="round"/>
<line x1="128" y1="524.6" x2="128" y2="544.3" stroke="#333" stroke-width="1.3" stroke-linecap="butt"/>
<line x1="149.5" y1="501.5" x2="149.5" y2="613.3" stroke="#333" stroke-width="1.3" stroke-linecap="butt"/>
<line x1="207.2" y1="721" x2="207.2" y2="749.6" stroke="#333" stroke-width="1.3" stroke-linecap="butt"/>
<line x1="215.3" y1="741" x2="215.3" y2="751" stroke="#333" stroke-width="1.3" stroke-linecap="butt"/>
<line x1="231.3" y1="753" x2="231.3" y2="761" stroke="#333" stroke-width="1.3" stroke-linecap="butt"/>
<line x1="264.8" y1="717.8" x2="264.8" y2="804.5" stroke="#333" stroke-width="1.3" stroke-linecap="butt"/>
<line x1="269.4" y1="763" x2="269.4" y2="778" stroke="#333" stroke-width="1.3" stroke-linecap="butt"/>
<line x1="340" y1="762" x2="340" y2="816" stroke="#333" stroke-width="1.3" stroke-linecap="butt"/>
<line x1="348" y1="780" x2="348" y2="789" stroke="#333" stroke-width="1.3" stroke-linecap="butt"/>
<line x1="399.6" y1="755.9" x2="399.6" y2="791.6" stroke="#333" stroke-width="1.3" stroke-linecap="butt"/>
<line x1="411" y1="767.8" x2="411" y2="803.5" stroke="#333" stroke-width="1.3" stroke-linecap="butt"/>
<line x1="509.2" y1="752" x2="509.2" y2="777" stroke="#333" stroke-width="1.3" stroke-linecap="butt"/>
<line x1="518.8" y1="750" x2="518.8" y2="775" stroke="#333" stroke-width="1.3" stroke-linecap="butt"/>
<line x1="290" y1="760" x2="290" y2="772" stroke="#333" stroke-width="1.3" stroke-linecap="butt"/>
<line x1="452" y1="760" x2="452" y2="772" stroke="#333" stroke-width="1.3" stroke-linecap="butt"/>
<rect x="126.2" y="732.4" width="6.700000000000003" height="55.89999999999998" fill="#000"/>
<rect x="126.2" y="781.6" width="101.39999999999999" height="6.699999999999932" fill="#000"/>
<text font-family="Liberation Sans" font-weight="bold" font-size="29.65" fill="#000" style="font-kerning:none" transform="translate(114.50,798.84) rotate(-90) scale(0.9169,1)">250 pA</text>
<text font-family="Liberation Sans" font-weight="bold" font-size="27.40" fill="#000" style="font-kerning:none" transform="translate(147.90,776.93) scale(1.0408,1)">120 s</text>
<text font-family="Liberation Sans" font-weight="bold" font-size="54.33" fill="#000" style="font-kerning:none" transform="translate(782.99,454.27) scale(0.9460,1)">d</text>
<rect x="817.9" y="445.8" width="8.80" height="9.00" rx="2.6" fill="#000"/>
<line x1="975" y1="449" x2="975" y2="795.7" stroke="#000" stroke-width="7.4" stroke-linecap="butt"/>
<line x1="966" y1="452" x2="975" y2="452" stroke="#000" stroke-width="7.4" stroke-linecap="round"/>
<line x1="966" y1="624.4" x2="975" y2="624.4" stroke="#000" stroke-width="7.4" stroke-linecap="round"/>
<line x1="966" y1="795.7" x2="975" y2="795.7" stroke="#000" stroke-width="7.4" stroke-linecap="round"/>
<line x1="967.5" y1="538.6" x2="975" y2="538.6" stroke="#000" stroke-width="6.5" stroke-linecap="round"/>
<line x1="967.5" y1="709" x2="975" y2="709" stroke="#000" stroke-width="6.5" stroke-linecap="round"/>
<text font-family="Liberation Sans" font-weight="bold" font-size="37.85" fill="#000" style="font-kerning:none" transform="translate(910.78,465.73) scale(0.9621,1)">-25</text>
<text font-family="Liberation Sans" font-weight="bold" font-size="37.85" fill="#000" style="font-kerning:none" transform="translate(889.56,638.13) scale(0.9762,1)">-100</text>
<text font-family="Liberation Sans" font-weight="bold" font-size="38.98" fill="#000" style="font-kerning:none" transform="translate(889.13,809.52) scale(0.9640,1)">-175</text>
<line x1="971.3" y1="795.7" x2="1296" y2="795.7" stroke="#000" stroke-width="7.4" stroke-linecap="round"/>
<text font-family="Liberation Sans" font-weight="bold" font-size="38.66" fill="#000" style="font-kerning:none" transform="translate(858.50,698.43) rotate(-90) scale(1.0953,1)">I</text>
<text font-family="Liberation Sans" font-weight="bold" font-size="26.69" fill="#000" style="font-kerning:none" transform="translate(866.84,688.45) rotate(-90) scale(1.0508,1)">peak</text>
<text font-family="Liberation Sans" font-weight="bold" font-size="38.66" fill="#000" style="font-kerning:none" transform="translate(858.50,613.20) rotate(-90) scale(0.9341,1)">(pA)</text>
<text font-family="Liberation Sans" font-weight="bold" font-size="33.90" fill="#000" style="font-kerning:none" transform="translate(1061.11,481.27) scale(0.9482,1)">4AP+DEC</text>
<circle cx="1135.9" cy="507" r="7.6" fill="#8ebcf7"/>
<circle cx="1135.9" cy="605.9" r="7.6" fill="#8ebcf7"/>
<circle cx="1135.9" cy="633.8" r="7.6" fill="#8ebcf7"/>
<circle cx="1135.9" cy="652.8" r="7.6" fill="#8ebcf7"/>
<circle cx="1135.9" cy="675.8" r="7.6" fill="#8ebcf7"/>
<circle cx="1135.9" cy="715.8" r="7.6" fill="#8ebcf7"/>
<circle cx="1135.9" cy="736.4" r="7.6" fill="#8ebcf7"/>
<line x1="1028.4" y1="646.8" x2="1243.2" y2="646.8" stroke="#0000ff" stroke-width="8" stroke-linecap="round"/>
<line x1="1082.2" y1="617.9" x2="1189.6" y2="617.9" stroke="#0000ff" stroke-width="7.4" stroke-linecap="round"/>
<line x1="1082.2" y1="675.8" x2="1189.6" y2="675.8" stroke="#0000ff" stroke-width="7.4" stroke-linecap="round"/>
<line x1="1136" y1="617.9" x2="1136" y2="675.8" stroke="#0000ff" stroke-width="7.6" stroke-linecap="butt"/>
<text font-family="Liberation Sans" font-weight="bold" font-size="52.20" fill="#000" style="font-kerning:none" transform="translate(-1.44,883.19) scale(0.9996,1)">e</text>
<rect x="31.4" y="874.1" width="8.60" height="8.90" rx="2.6" fill="#000"/>
<text font-family="Liberation Sans" font-weight="bold" font-size="38.66" fill="#0000ff" style="font-kerning:none" transform="translate(74.48,919.20) scale(0.9360,1)">DEC</text>
<text font-family="Liberation Sans" font-weight="bold" font-size="38.37" fill="#0000ff" style="font-kerning:none" transform="translate(176.05,893.80) scale(0.9717,1)">1 µM</text>
<text font-family="Liberation Sans" font-weight="bold" font-size="38.23" fill="#0000ff" style="font-kerning:none" transform="translate(388.95,892.50) scale(0.9682,1)">3 µM</text>
<text font-family="Liberation Sans" font-weight="bold" font-size="39.24" fill="#0000ff" style="font-kerning:none" transform="translate(558.16,896.50) scale(0.9460,1)">10 µM</text>
<text font-family="Liberation Sans" font-weight="bold" font-size="38.81" fill="#0000ff" style="font-kerning:none" transform="translate(764.85,892.70) scale(0.9501,1)">30 µM</text>
<text font-family="Liberation Sans" font-weight="bold" font-size="39.24" fill="#0000ff" style="font-kerning:none" transform="translate(1035.45,893.00) scale(0.9511,1)">100 µM</text>
<polygon points="175.2,906.2 218.8,904.4 218.8,920 175.2,921.8" fill="#0000ff"/>
<polygon points="392,906.2 435.1,904.4 435.1,920 392,921.8" fill="#0000ff"/>
<polygon points="573.9,906.2 617,904.4 617,920 573.9,921.8" fill="#0000ff"/>
<polygon points="784.2,906.2 827.3,904.4 827.3,920 784.2,921.8" fill="#0000ff"/>
<polygon points="1061.7,906.2 1104.6,904.4 1104.6,920 1061.7,921.8" fill="#0000ff"/>
<polygon points="136.5,954.3 138.1,954.7 139.7,957.7 141.3,958.3 142.9,956.8 144.5,957.3 146.1,957.0 147.7,959.2 149.3,959.2 150.9,959.9 152.5,959.3 154.1,961.4 155.7,959.0 157.3,963.5 158.9,963.6 160.5,963.3 162.1,962.7 163.7,961.9 165.3,961.3 166.9,958.2 168.5,959.1 170.1,958.9 171.7,947.3 173.3,956.3 174.9,960.1 176.5,958.5 178.1,957.4 179.7,956.9 181.3,961.6 182.9,960.8 184.5,963.3 186.1,962.9 187.7,964.6 189.3,966.1 190.9,969.2 192.5,968.5 194.1,965.9 195.7,973.5 197.3,972.9 198.9,974.6 200.5,975.5 202.1,978.3 203.7,979.6 205.3,980.8 206.9,980.5 208.5,985.6 210.1,983.4 211.7,981.3 213.3,980.3 214.9,978.3 216.5,980.4 218.1,980.0 219.7,978.7 221.3,978.0 222.9,978.3 224.5,977.3 226.1,982.3 227.7,979.5 229.3,972.1 230.9,972.7 232.5,974.1 234.1,973.1 235.7,971.4 237.3,963.6 238.9,972.6 240.5,970.9 242.1,972.0 243.7,969.7 245.3,970.5 246.9,969.0 248.5,964.8 250.1,964.6 251.7,967.4 253.3,961.1 254.9,954.2 256.5,961.7 258.1,957.1 259.7,957.4 261.3,957.6 262.9,952.0 264.5,954.4 266.1,952.5 267.7,952.5 269.3,948.1 270.9,950.7 272.5,947.5 274.1,949.8 275.7,949.3 277.3,949.9 278.9,951.7 280.5,947.5 282.1,949.4 283.7,949.7 285.3,953.4 286.9,949.4 288.5,954.2 290.1,953.5 291.7,952.0 293.3,953.2 294.9,953.5 296.5,950.5 298.1,952.0 299.7,952.5 301.3,950.5 302.9,952.6 304.5,954.9 306.1,950.8 307.7,953.4 309.3,950.4 310.9,953.8 312.5,952.6 314.1,950.4 315.7,952.1 317.3,953.7 318.9,949.3 320.5,950.5 322.1,953.9 323.7,949.3 325.3,952.8 326.9,952.4 328.5,950.9 330.1,950.9 331.7,941.6 333.3,951.8 333.3,983.8 331.7,990.8 330.1,989.8 328.5,981.5 326.9,992.1 325.3,977.1 323.7,980.9 322.1,986.5 320.5,978.3 318.9,974.5 317.3,974.0 315.7,977.4 314.1,974.6 312.5,974.2 310.9,974.8 309.3,976.1 307.7,987.0 306.1,974.9 304.5,975.9 302.9,977.4 301.3,975.8 299.7,974.5 298.1,974.2 296.5,974.1 294.9,976.0 293.3,978.8 291.7,986.0 290.1,974.3 288.5,978.4 286.9,974.3 285.3,977.6 283.7,974.9 282.1,975.6 280.5,978.9 278.9,983.6 277.3,980.6 275.7,977.1 274.1,979.4 272.5,979.4 270.9,981.6 269.3,981.0 267.7,984.1 266.1,980.4 264.5,982.3 262.9,990.6 261.3,993.5 259.7,980.4 258.1,983.4 256.5,981.5 254.9,984.1 253.3,997.0 251.7,989.4 250.1,987.7 248.5,990.9 246.9,992.8 245.3,993.8 243.7,996.4 242.1,993.3 240.5,994.3 238.9,996.7 237.3,995.4 235.7,996.7 234.1,996.2 232.5,998.6 230.9,998.7 229.3,998.9 227.7,1004.8 226.1,1012.5 224.5,1007.4 222.9,1006.2 221.3,1004.7 219.7,1005.5 218.1,1004.1 216.5,1004.7 214.9,1007.6 213.3,1003.9 211.7,1009.0 210.1,1009.9 208.5,1011.2 206.9,1005.7 205.3,1005.7 203.7,1003.4 202.1,1001.9 200.5,999.6 198.9,997.9 197.3,995.7 195.7,999.2 194.1,997.3 192.5,994.1 190.9,990.5 189.3,993.4 187.7,990.3 186.1,987.8 184.5,988.9 182.9,988.5 181.3,985.0 179.7,984.4 178.1,987.6 176.5,988.0 174.9,985.9 173.3,987.5 171.7,985.9 170.1,984.9 168.5,984.3 166.9,984.2 165.3,985.5 163.7,987.5 162.1,985.6 160.5,986.2 158.9,988.4 157.3,987.2 155.7,985.4 154.1,983.7 152.5,986.7 150.9,985.7 149.3,983.6 147.7,984.6 146.1,983.2 144.5,980.1 142.9,981.7 141.3,980.2 139.7,977.8 138.1,976.0 136.5,975.1" fill="#000"/>
<line x1="263.5" y1="943" x2="263.5" y2="960" stroke="#000" stroke-width="3" stroke-linecap="butt"/>
<line x1="268.5" y1="930" x2="268.5" y2="960" stroke="#000" stroke-width="3" stroke-linecap="butt"/>
<line x1="275.8" y1="920.5" x2="275.8" y2="955" stroke="#000" stroke-width="3" stroke-linecap="butt"/>
<line x1="169.5" y1="975" x2="169.5" y2="990.7" stroke="#000" stroke-width="3" stroke-linecap="butt"/>
<line x1="249.5" y1="985" x2="249.5" y2="998" stroke="#000" stroke-width="3" stroke-linecap="butt"/>
<line x1="325.3" y1="975" x2="325.3" y2="986" stroke="#000" stroke-width="3" stroke-linecap="butt"/>
<line x1="331.8" y1="975" x2="331.8" y2="985" stroke="#000" stroke-width="3" stroke-linecap="butt"/>
<line x1="215" y1="1000" x2="215" y2="1030" stroke="#000" stroke-width="3" stroke-linecap="butt"/>
<line x1="210" y1="995" x2="210" y2="1012" stroke="#000" stroke-width="3" stroke-linecap="butt"/>
<polyline points="386.0,961.5 387.5,961.2 389.3,962.0 392.1,960.7 392.9,960.1 396.0,959.0 396.3,956.8 398.9,956.0 401.5,954.0" fill="none" stroke="#000" stroke-width="13" stroke-linejoin="round" stroke-linecap="round"/>
<polyline points="401.5,954.0 401.0,956.2 402.6,958.5 401.0,959.2 401.3,962.3 402.3,964.0 402.2,965.8 402.6,968.3 403.2,970.4 403.2,972.7 403.5,974.4 402.3,976.3 403.9,977.9 404.2,979.4 404.5,981.9 404.3,983.6 403.7,985.7 404.0,987.3 404.4,990.9 405.1,992.8 405.6,994.6 406.4,996.5 405.4,997.5 406.0,999.1 406.0,1002.7 407.6,1003.7 407.7,1006.5 408.2,1008.5 408.1,1009.3 409.1,1011.7 409.2,1013.8 409.6,1016.8 409.4,1018.1 410.8,1020.1 411.8,1021.8 413.0,1024.3 414.3,1025.3 414.2,1027.6 416.7,1029.1 417.6,1028.9 420.0,1027.0" fill="none" stroke="#000" stroke-width="8.5" stroke-linejoin="round" stroke-linecap="round"/>
<polyline points="420.0,1026.0 422.9,1023.8 423.9,1023.0 426.3,1021.4 428.0,1018.8 428.6,1016.6 430.8,1015.2 431.6,1014.8 433.5,1012.2 434.7,1010.2 436.0,1007.6 436.0,1005.2 437.1,1003.8 438.4,1001.5 440.0,1001.2 441.3,998.1 442.5,996.1 442.3,994.5 443.8,993.3 444.9,991.5 445.3,989.9 446.7,987.8 447.2,985.9 448.5,984.1 450.5,981.8 451.1,978.7 452.4,978.5 453.9,976.2 456.2,974.3 457.4,971.9 459.3,971.9 461.8,969.8 464.1,967.8 465.2,966.3 468.6,965.3 470.8,965.4 472.4,964.7 474.5,964.6 475.8,963.9 477.3,962.2 480.5,961.1 481.8,960.5 483.5,957.9 486.0,957.0" fill="none" stroke="#000" stroke-width="15.5" stroke-linejoin="round" stroke-linecap="round"/>
<polyline points="486.5,931.0 486.0,932.8 486.3,935.3 486.4,937.7 485.7,939.3 487.1,940.5 485.7,942.9 485.8,944.9 486.9,946.3 485.8,949.0 485.9,950.5 486.4,952.3 485.7,954.8 486.4,957.8 486.6,958.2 486.0,961.4 486.6,963.7 487.3,965.6 485.8,967.8 486.5,968.5 486.5,971.0" fill="none" stroke="#000" stroke-width="7" stroke-linejoin="round" stroke-linecap="round"/>
<polyline points="488.0,946.0 487.6,948.9 487.9,949.6 488.2,953.4 488.7,955.2 489.0,957.0" fill="none" stroke="#000" stroke-width="9" stroke-linejoin="round" stroke-linecap="round"/>
<polyline points="555.5,942.8 557.0,942.3 559.7,941.5 562.6,942.1 564.0,943.5 567.0,942.4 568.1,944.4 571.0,944.5 572.9,946.9 574.8,947.5 576.5,949.7 578.5,950.4 580.5,953.3 582.3,954.8 583.5,956.5 585.1,956.9 587.5,959.0" fill="none" stroke="#000" stroke-width="12" stroke-linejoin="round" stroke-linecap="round"/>
<polyline points="587.5,959.0 587.7,961.7 586.9,962.5 586.8,964.9 587.1,966.4 588.3,969.1 588.7,970.8 588.3,972.1 588.8,974.5 588.0,977.0 588.9,979.0 589.1,981.2 587.7,983.6 587.8,985.9 588.2,986.5 589.2,988.7 588.2,990.7 588.7,992.1 588.1,994.4 589.0,996.1 588.6,998.6 588.3,1001.1 588.8,1002.3 588.0,1004.3 589.3,1006.4 587.8,1009.0 588.6,1011.7 587.7,1012.5 587.9,1015.2 588.4,1016.8 589.3,1019.4 589.3,1022.0 588.3,1024.0 588.7,1024.5 589.7,1026.7 588.1,1029.1 588.7,1032.4 589.8,1033.5 589.3,1036.4 589.9,1038.1 589.4,1039.2 589.0,1042.3 589.9,1044.5 590.8,1046.8 589.8,1047.2 591.3,1050.1 590.3,1052.3 590.7,1053.5 591.2,1056.0 592.0,1057.2 592.4,1060.2 592.7,1062.5 594.0,1063.4 594.1,1066.7 595.2,1068.8 595.0,1071.5 596.8,1072.4 596.9,1075.8 598.0,1076.5 600.8,1079.1 601.0,1080.5 602.7,1082.1 604.5,1083.5" fill="none" stroke="#000" stroke-width="8" stroke-linejoin="round" stroke-linecap="round"/>
<polyline points="604.5,1083.5 605.7,1080.9 605.4,1079.1 606.1,1076.9 606.6,1075.6 607.8,1073.1 608.8,1072.7 609.5,1069.7 610.4,1067.9 610.2,1066.0 610.7,1064.3 611.8,1061.8 614.0,1060.5 614.6,1058.3 615.1,1056.5 616.6,1053.7 617.1,1052.1 617.0,1051.2 618.5,1049.3 619.8,1047.0 619.5,1044.1 620.8,1043.5 621.1,1040.4 621.4,1038.7 623.5,1036.6 623.4,1035.1 625.0,1034.5 624.6,1031.1 627.0,1030.7 626.4,1027.7 627.9,1025.7 628.6,1024.0 629.2,1021.2 629.8,1019.4 630.6,1018.2 632.6,1015.6 633.7,1014.4 633.7,1012.0 634.2,1010.9 635.6,1007.4 635.6,1006.6 636.7,1004.8 637.1,1003.0 638.9,999.8 639.2,998.1 640.2,997.3 641.1,994.3 640.5,993.2 642.1,990.3 642.4,989.3 643.3,987.5 644.5,984.9 645.9,983.6 647.4,980.8 648.4,979.2 648.6,978.1 650.3,976.2 652.2,973.9 652.7,973.2 654.1,970.7 655.5,970.2 658.1,968.6 659.8,967.2 660.2,964.7 662.4,962.7 664.2,961.8 665.2,961.5 667.4,961.3 670.7,959.4 671.5,957.8 674.0,957.5 675.8,956.9 678.1,956.0 679.0,953.7 681.2,953.3 682.7,952.6 684.4,950.9 686.5,950.5 688.8,948.8 689.9,948.8 692.4,947.0 692.5,945.4 695.1,943.9 696.5,943.0" fill="none" stroke="#000" stroke-width="13" stroke-linejoin="round" stroke-linecap="round"/>
<polyline points="738.0,949.5 739.5,949.7 743.4,947.5 744.9,947.7 746.8,946.7 749.7,947.8 751.3,946.5 753.4,946.5 756.5,946.3 757.5,947.6 759.3,946.3 761.4,946.5 764.3,947.7 765.8,946.6 769.0,947.2 770.4,946.7 772.4,948.3 774.3,947.1 777.6,948.3 780.1,947.7 782.4,948.0 783.4,947.8 786.0,948.0" fill="none" stroke="#000" stroke-width="19" stroke-linejoin="round" stroke-linecap="round"/>
<polyline points="786.0,948.0 787.9,950.2 788.3,950.9 791.3,952.5 792.6,954.7 791.7,956.6 792.3,959.9 792.0,961.6 792.5,962.4 793.4,964.7 792.6,966.9 794.0,969.7 793.7,970.1 794.3,973.2 794.7,975.8 794.0,977.6 795.2,978.6 794.7,980.8 794.9,982.8 794.8,984.5 796.5,986.8 796.3,989.7 796.9,990.5 797.5,993.5 797.9,995.4 798.2,997.6 798.1,999.3 799.0,1001.6 799.3,1003.1 800.5,1005.6 801.2,1007.6 802.9,1009.7 802.4,1011.8 804.6,1013.2 805.6,1013.9 807.1,1016.7 807.5,1018.1 809.2,1020.8 810.5,1021.6 810.7,1023.5 810.5,1025.8 810.5,1028.7 811.1,1029.5 811.0,1032.8 811.5,1034.4 812.0,1037.1 813.2,1038.4 812.8,1041.5 812.7,1043.6 813.4,1044.7 813.9,1047.2 812.8,1049.3 814.3,1051.3 814.0,1053.2 814.9,1055.7 814.0,1057.3 814.5,1060.4 815.4,1061.0 816.0,1062.9 815.7,1065.7 816.1,1067.8 815.3,1070.0 817.0,1072.6 816.6,1073.7 817.7,1076.8 817.2,1079.0 819.0,1080.3 818.3,1082.9 819.7,1084.0 819.0,1086.4 820.2,1088.2 820.3,1090.8 820.9,1092.3 821.8,1095.9 821.7,1097.5 821.6,1099.7 822.9,1101.5 824.1,1102.8 824.8,1104.5 823.7,1107.0 825.9,1109.7 826.6,1111.0 827.2,1113.1 826.4,1115.2 829.0,1116.6 830.2,1118.1 831.1,1120.1 833.0,1121.9 833.8,1122.9 836.0,1125.5" fill="none" stroke="#000" stroke-width="9.5" stroke-linejoin="round" stroke-linecap="round"/>
<polyline points="836.0,1125.5 837.2,1124.3 839.4,1121.8 840.1,1120.7 841.4,1119.2 843.5,1116.5 843.7,1115.4 844.7,1113.4 845.4,1110.6 846.4,1109.8 845.7,1107.8 847.1,1104.3 847.2,1103.5 849.0,1100.4 849.4,1099.4 851.1,1097.0 851.4,1094.9 851.1,1092.8 852.2,1091.8 852.7,1089.0 853.3,1087.0 854.0,1085.5 855.3,1083.3 856.0,1081.9 857.5,1080.1 858.1,1078.2 857.5,1076.5 858.0,1073.8 858.6,1072.9 860.8,1070.5 860.4,1068.6 861.1,1067.2 861.8,1064.4 863.7,1063.2 863.1,1061.8 865.4,1059.0 866.2,1058.2 866.8,1055.4 867.6,1053.7 869.3,1052.1 870.8,1049.2 870.8,1048.5 872.5,1046.2 873.3,1043.7 874.8,1042.1 874.8,1039.4 875.3,1038.7 877.5,1035.1 877.7,1034.0 879.0,1031.8 880.7,1029.7 881.0,1029.0 882.1,1026.4 882.4,1024.4 883.8,1023.3 884.1,1020.8 885.2,1019.0 887.0,1017.5 886.8,1015.3 888.7,1013.2 889.3,1011.1 889.3,1009.4 891.4,1007.8 891.2,1005.8 892.2,1005.2 893.9,1003.7 895.2,1001.3 896.1,998.7 897.0,997.5 896.5,996.2 898.6,993.8 898.3,992.9 900.5,990.6 901.9,987.8 901.2,986.2 902.1,985.5 904.2,982.6 904.4,981.0 906.2,980.1 907.8,977.7 909.0,976.0 909.1,973.8 909.9,973.3 912.5,970.9 912.1,968.1 913.2,966.6 915.4,964.2 916.2,963.3 916.5,960.9 919.0,959.1 919.6,957.7 921.0,954.7 922.0,953.0" fill="none" stroke="#000" stroke-width="13.5" stroke-linejoin="round" stroke-linecap="round"/>
<polyline points="922.0,953.0 923.8,952.8 926.6,951.7 928.1,949.4 929.4,948.8 932.3,948.5 934.5,950.4 936.0,949.4 938.5,950.6 940.3,951.3 942.4,951.5 944.8,952.9 946.8,952.7 947.7,952.7 949.6,954.1 952.5,954.3 954.6,955.1 956.3,954.3 958.5,954.6 960.2,955.5 962.6,957.2 963.6,959.1 966.0,959.5" fill="none" stroke="#000" stroke-width="15.5" stroke-linejoin="round" stroke-linecap="round"/>
<polyline points="996.0,963.5 997.2,964.2 1000.5,962.7 1002.5,963.3 1004.7,963.3 1005.9,963.8 1007.3,962.5 1009.3,960.6 1011.3,960.7 1013.9,959.5 1015.6,958.7 1018.3,956.7 1020.0,956.9 1021.5,957.4 1023.6,957.5 1026.8,959.2 1028.9,958.9 1029.5,961.1 1031.1,962.1 1032.7,963.6 1034.1,965.3 1034.0,967.4 1035.4,968.8 1037.2,971.4 1040.1,972.9 1041.3,972.2 1043.8,971.0 1046.6,970.2 1048.0,969.8 1050.6,970.7 1051.2,969.4 1053.9,969.4 1056.4,968.2 1058.8,967.4 1059.7,968.7 1062.0,967.8 1065.0,968.5" fill="none" stroke="#000" stroke-width="17" stroke-linejoin="round" stroke-linecap="round"/>
<polyline points="1065.0,968.5 1065.6,970.5 1065.6,973.9 1066.8,975.9 1067.0,978.4 1067.5,980.7 1068.4,982.8 1068.9,984.2 1068.7,986.6 1068.7,987.3 1069.7,990.6 1069.5,992.4 1068.9,993.9 1070.2,996.8 1070.6,997.4 1070.3,1000.1 1070.0,1001.5 1069.7,1004.1 1070.5,1005.8 1070.4,1008.4 1071.3,1010.6 1070.4,1013.2 1070.9,1015.4 1072.2,1016.0 1071.6,1019.6 1071.5,1020.9 1071.5,1022.1 1071.5,1024.3 1071.8,1027.3 1072.5,1030.0 1073.0,1031.0 1073.7,1033.5 1073.1,1036.0 1073.6,1037.2 1073.7,1039.2 1074.5,1041.1 1074.7,1042.9 1073.2,1045.8 1073.8,1047.8 1073.8,1050.5 1075.0,1052.3 1075.7,1054.9 1075.5,1056.5 1074.5,1057.4 1075.4,1061.1 1075.5,1062.4 1075.1,1064.2 1077.0,1066.5 1077.1,1067.5 1076.3,1069.8 1077.7,1071.6 1078.2,1073.9 1078.4,1076.4 1077.6,1079.2 1078.1,1080.7 1077.7,1082.9 1079.6,1083.6 1079.5,1085.9 1078.7,1088.0 1079.9,1091.1 1080.8,1093.1 1080.4,1094.5 1079.8,1096.6 1080.8,1098.0 1081.7,1099.8 1080.6,1101.6 1081.0,1104.3 1082.4,1105.5 1082.2,1108.3 1082.6,1110.0 1082.8,1111.2 1082.2,1113.9 1082.9,1116.5 1083.2,1118.6 1083.5,1119.3 1084.2,1121.8 1084.2,1124.5 1084.3,1126.3 1085.7,1127.9 1085.4,1130.7 1085.9,1131.4 1085.2,1133.2 1085.9,1135.2 1086.8,1137.7 1086.5,1139.9 1087.9,1141.4 1086.8,1143.5 1087.4,1146.6 1088.4,1147.7 1087.8,1149.0 1088.1,1152.6 1089.5,1153.4 1089.8,1155.3 1090.0,1157.8 1089.7,1160.6 1091.2,1162.3 1090.6,1164.6 1091.5,1166.7 1091.3,1169.2 1091.5,1170.0 1092.6,1172.1 1092.5,1175.0 1094.5,1176.4 1093.6,1179.1 1094.0,1180.7 1095.3,1182.8 1094.9,1184.2 1096.1,1187.9 1097.3,1188.3 1097.0,1191.0 1096.9,1193.4 1098.0,1195.7 1098.1,1198.0 1099.6,1199.2 1098.9,1201.2 1099.3,1203.6 1100.9,1205.5 1101.9,1206.6 1102.2,1210.0 1102.0,1211.3 1102.7,1213.8 1104.7,1215.5 1105.5,1217.7 1106.4,1219.6 1107.9,1221.7 1107.1,1222.9 1109.4,1226.2 1110.2,1226.7 1111.7,1229.6 1112.0,1231.0" fill="none" stroke="#000" stroke-width="11" stroke-linejoin="round" stroke-linecap="round"/>
<polyline points="1112.0,1231.0 1112.3,1228.8 1114.4,1226.2 1114.3,1224.9 1116.8,1224.1 1116.8,1222.0 1118.7,1220.0 1118.5,1218.1 1118.8,1216.1 1118.8,1212.7 1118.9,1211.2 1118.7,1208.9 1119.2,1207.3 1118.9,1204.7 1119.5,1203.1 1119.5,1201.4 1119.3,1199.1 1119.6,1197.5 1120.5,1195.5 1120.4,1192.5 1121.3,1191.0 1120.5,1188.5 1120.7,1187.3 1121.6,1184.8 1121.6,1182.3 1121.2,1180.6 1121.2,1178.5 1122.1,1177.2 1121.2,1174.3 1122.4,1173.0 1122.3,1170.9 1122.5,1168.2 1121.5,1166.4 1121.6,1165.4 1122.6,1162.9 1123.5,1161.1 1122.3,1158.2 1122.2,1157.0 1123.5,1154.4 1122.9,1152.0 1123.3,1150.8 1124.2,1149.0 1124.2,1146.2 1123.6,1144.0 1124.7,1141.7 1123.3,1139.8 1124.9,1138.8 1123.9,1136.8 1125.1,1134.0 1123.9,1132.6 1124.4,1129.4 1125.5,1128.0 1124.7,1126.2 1124.6,1123.1 1125.3,1121.7 1125.1,1119.6 1127.0,1117.4 1127.3,1115.9 1126.9,1112.7 1128.3,1111.7 1128.1,1108.8 1129.6,1108.0 1130.3,1105.7 1132.6,1103.4 1133.4,1101.7 1136.3,1100.4 1136.5,1097.5 1136.5,1095.9 1137.3,1094.0 1138.7,1091.6 1139.4,1089.8 1139.6,1087.8 1139.7,1086.1 1139.2,1084.9 1141.1,1081.9 1141.5,1080.3 1142.4,1077.6 1141.8,1075.9 1143.1,1074.9 1144.3,1072.6 1144.4,1071.1 1144.7,1068.1 1146.8,1066.5 1148.1,1063.9 1148.0,1062.2 1148.0,1060.0 1149.0,1058.6 1150.5,1056.9 1151.1,1055.3 1153.0,1054.3 1153.9,1051.9 1156.0,1050.2 1158.2,1048.4 1159.7,1047.2 1160.2,1046.2 1162.1,1044.1 1162.8,1043.8 1164.1,1040.5 1165.4,1039.3 1165.6,1037.1 1167.3,1035.3 1167.3,1034.5 1168.0,1031.7 1168.4,1030.3 1170.1,1028.1 1170.4,1025.8 1171.7,1024.2 1172.3,1022.0 1172.7,1019.4 1172.3,1019.1 1173.7,1016.5 1173.9,1014.2 1173.9,1011.6 1175.3,1010.5 1175.2,1008.4 1175.5,1006.3 1176.1,1004.1 1176.9,1002.2 1177.1,1000.1 1178.5,997.4 1178.5,996.4 1179.4,994.3 1180.3,992.2 1179.8,990.0 1181.4,988.2 1181.8,985.8 1181.7,984.9 1182.9,982.3 1182.1,980.2 1182.5,978.8 1184.6,976.4 1183.9,974.7 1184.2,972.6 1185.3,969.1 1186.5,967.9 1186.9,966.3 1186.9,964.7 1186.8,962.7 1187.9,958.8 1188.8,956.6 1190.0,955.0" fill="none" stroke="#000" stroke-width="11.5" stroke-linejoin="round" stroke-linecap="round"/>
<polyline points="1190.0,955.0 1191.3,954.8 1193.5,953.6 1195.9,953.4 1199.1,954.2 1201.1,953.9 1202.4,953.2 1204.2,953.0 1207.2,952.3 1208.2,950.8 1211.6,951.6 1213.2,952.2 1214.6,952.0 1217.3,952.2 1219.5,951.2 1222.6,951.4 1224.3,952.4 1225.6,952.2 1228.1,951.4 1229.9,952.8 1232.4,952.0 1234.3,952.2 1236.5,954.6 1238.4,955.0 1238.9,956.1 1241.5,957.7 1242.6,958.6 1243.9,960.4 1246.3,961.0 1248.8,961.8 1250.6,963.5 1252.7,964.4 1253.6,966.7 1256.1,966.6 1258.5,966.7 1260.4,966.6 1263.2,967.4 1265.4,968.3 1267.0,968.5" fill="none" stroke="#000" stroke-width="12.5" stroke-linejoin="round" stroke-linecap="round"/>
<rect x="710.2" y="1048.9" width="11.0" height="156.19999999999982" fill="#000"/>
<rect x="710.2" y="1194" width="185.5" height="11.099999999999909" fill="#000"/>
<text font-family="Liberation Sans" font-weight="bold" font-size="38.81" fill="#000" style="font-kerning:none" transform="translate(698.70,1183.13) rotate(-90) scale(0.9436,1)">500 pA</text>
<text font-family="Liberation Sans" font-weight="bold" font-size="37.09" fill="#000" style="font-kerning:none" transform="translate(748.71,1185.40) scale(1.0022,1)">2 min</text>
<text font-family="Liberation Sans" font-weight="bold" font-size="55.34" fill="#000" style="font-kerning:none" transform="translate(14.11,1145.90) scale(1.0460,1)">f</text>
<rect x="33.2" y="1137.1" width="8.90" height="8.80" rx="2.6" fill="#000"/>
<line x1="204.3" y1="1143.9" x2="204.3" y2="1544.7" stroke="#000" stroke-width="6.5" stroke-linecap="butt"/>
<line x1="191" y1="1541.5" x2="204.3" y2="1541.5" stroke="#000" stroke-width="6.5" stroke-linecap="round"/>
<text font-family="Liberation Sans" font-weight="bold" font-size="38.56" fill="#000" style="font-kerning:none" transform="translate(170.96,1554.77) scale(0.8780,1)">0</text>
<line x1="191" y1="1462.56" x2="204.3" y2="1462.56" stroke="#000" stroke-width="6.5" stroke-linecap="round"/>
<text font-family="Liberation Sans" font-weight="bold" font-size="38.48" fill="#000" style="font-kerning:none" transform="translate(122.18,1475.78) scale(0.8778,1)">-300</text>
<line x1="191" y1="1383.62" x2="204.3" y2="1383.62" stroke="#000" stroke-width="6.5" stroke-linecap="round"/>
<text font-family="Liberation Sans" font-weight="bold" font-size="38.56" fill="#000" style="font-kerning:none" transform="translate(122.59,1396.89) scale(0.8706,1)">-600</text>
<line x1="191" y1="1304.68" x2="204.3" y2="1304.68" stroke="#000" stroke-width="6.5" stroke-linecap="round"/>
<text font-family="Liberation Sans" font-weight="bold" font-size="38.56" fill="#000" style="font-kerning:none" transform="translate(122.59,1317.95) scale(0.8706,1)">-900</text>
<line x1="191" y1="1225.74" x2="204.3" y2="1225.74" stroke="#000" stroke-width="6.5" stroke-linecap="round"/>
<text font-family="Liberation Sans" font-weight="bold" font-size="38.56" fill="#000" style="font-kerning:none" transform="translate(103.08,1239.01) scale(0.8793,1)">-1200</text>
<line x1="191" y1="1146.8" x2="204.3" y2="1146.8" stroke="#000" stroke-width="6.5" stroke-linecap="round"/>
<text font-family="Liberation Sans" font-weight="bold" font-size="38.56" fill="#000" style="font-kerning:none" transform="translate(102.77,1160.07) scale(0.8824,1)">-1500</text>
<line x1="201" y1="1541.5" x2="595.5" y2="1541.5" stroke="#000" stroke-width="6.5" stroke-linecap="round"/>
<line x1="269.2" y1="1541.5" x2="269.2" y2="1549.5" stroke="#000" stroke-width="6" stroke-linecap="round"/>
<line x1="334.2" y1="1541.5" x2="334.2" y2="1549.5" stroke="#000" stroke-width="6" stroke-linecap="round"/>
<line x1="399.2" y1="1541.5" x2="399.2" y2="1549.5" stroke="#000" stroke-width="6" stroke-linecap="round"/>
<line x1="464.2" y1="1541.5" x2="464.2" y2="1549.5" stroke="#000" stroke-width="6" stroke-linecap="round"/>
<line x1="529.2" y1="1541.5" x2="529.2" y2="1549.5" stroke="#000" stroke-width="6" stroke-linecap="round"/>
<line x1="594.2" y1="1541.5" x2="594.2" y2="1549.5" stroke="#000" stroke-width="6" stroke-linecap="round"/>
<text font-family="Liberation Sans" font-weight="bold" font-size="38.14" fill="#000" style="font-kerning:none" transform="translate(255.24,1585.83) scale(0.8441,1)">-6</text>
<text font-family="Liberation Sans" font-weight="bold" font-size="38.70" fill="#000" style="font-kerning:none" transform="translate(384.71,1585.82) scale(0.8549,1)">-5</text>
<text font-family="Liberation Sans" font-weight="bold" font-size="39.24" fill="#000" style="font-kerning:none" transform="translate(515.05,1586.20) scale(0.8145,1)">-4</text>
<text font-family="Liberation Sans" font-weight="bold" font-size="37.21" fill="#000" style="font-kerning:none" transform="translate(316.73,1659.60) scale(0.9104,1)">Log [DEC]</text>
<text font-family="Liberation Sans" font-weight="bold" font-size="37.50" fill="#000" style="font-kerning:none" transform="translate(242.90,1417.80) rotate(-90) scale(1.3144,1)">I</text>
<text font-family="Liberation Sans" font-weight="bold" font-size="25.60" fill="#000" style="font-kerning:none" transform="translate(249.75,1407.18) rotate(-90) scale(1.0549,1)">peak</text>
<text font-family="Liberation Sans" font-weight="bold" font-size="37.50" fill="#000" style="font-kerning:none" transform="translate(242.90,1333.84) rotate(-90) scale(0.9294,1)">(pA)</text>
<text font-family="Liberation Sans" font-weight="bold" font-size="44.04" fill="#000" style="font-kerning:none" transform="translate(482.15,1491.60) scale(0.9662,1)">EC</text>
<text font-family="Liberation Sans" font-weight="bold" font-size="27.82" fill="#000" style="font-kerning:none" transform="translate(542.01,1501.73) scale(1.0396,1)">50</text>
<text font-family="Liberation Sans" font-weight="bold" font-size="43.13" fill="#000" style="font-kerning:none" transform="translate(573.68,1489.93) scale(1.0172,1)">=</text>
<text font-family="Liberation Sans" font-weight="bold" font-size="44.48" fill="#000" style="font-kerning:none" transform="translate(611.81,1491.60) scale(0.9730,1)">39.1 ± 0.6 µM</text>
<circle cx="461.5" cy="1344" r="5.45" fill="#8ebcf7"/>
<circle cx="461.5" cy="1359.6" r="5.45" fill="#8ebcf7"/>
<circle cx="461.5" cy="1401.8" r="5.45" fill="#8ebcf7"/>
<circle cx="461.5" cy="1414.2" r="5.45" fill="#8ebcf7"/>
<circle cx="529.7" cy="1163.5" r="5.45" fill="#8ebcf7"/>
<circle cx="529.7" cy="1259.9" r="5.45" fill="#8ebcf7"/>
<circle cx="529.7" cy="1268.2" r="5.45" fill="#8ebcf7"/>
<polyline points="206.50,1529.34 207.52,1529.34 208.54,1529.34 209.56,1529.33 210.58,1529.33 211.60,1529.33" fill="none" stroke="#0000ff" stroke-width="7" stroke-linecap="round" stroke-linejoin="round"/>
<polyline points="227.50,1529.29 228.68,1529.28 229.86,1529.28 231.04,1529.27 232.22,1529.27 233.40,1529.26" fill="none" stroke="#0000ff" stroke-width="7" stroke-linecap="round" stroke-linejoin="round"/>
<polyline points="248.50,1529.18 249.56,1529.17 250.61,1529.17 251.67,1529.16 252.72,1529.15 253.78,1529.14 254.83,1529.13 255.89,1529.12 256.94,1529.11 258.00,1529.10" fill="none" stroke="#0000ff" stroke-width="7" stroke-linecap="round" stroke-linejoin="round"/>
<polyline points="284.20,1528.70 285.35,1528.67 286.50,1528.64 287.65,1528.61 288.80,1528.58" fill="none" stroke="#0000ff" stroke-width="7" stroke-linecap="round" stroke-linejoin="round"/>
<polyline points="305.00,1528.00 306.06,1527.95 307.12,1527.89 308.18,1527.84 309.24,1527.78 310.30,1527.73" fill="none" stroke="#0000ff" stroke-width="7" stroke-linecap="round" stroke-linejoin="round"/>
<polyline points="339.50,1524.98 340.52,1524.83 341.53,1524.67 342.55,1524.51 343.57,1524.34 344.58,1524.17 345.60,1523.99" fill="none" stroke="#0000ff" stroke-width="7" stroke-linecap="round" stroke-linejoin="round"/>
<polyline points="361.10,1520.39 362.37,1520.01 363.63,1519.61 364.90,1519.20" fill="none" stroke="#0000ff" stroke-width="7" stroke-linecap="round" stroke-linejoin="round"/>
<polyline points="381.10,1512.18 382.33,1511.49 383.57,1510.77 384.80,1510.03" fill="none" stroke="#0000ff" stroke-width="7" stroke-linecap="round" stroke-linejoin="round"/>
<polyline points="406.80,1491.18 407.90,1489.91 409.00,1488.60 410.10,1487.25 411.20,1485.86 412.30,1484.44" fill="none" stroke="#0000ff" stroke-width="7" stroke-linecap="round" stroke-linejoin="round"/>
<polyline points="420.60,1472.39 421.73,1470.55 422.87,1468.67 424.00,1466.75" fill="none" stroke="#0000ff" stroke-width="7" stroke-linecap="round" stroke-linejoin="round"/>
<polyline points="431.70,1452.42 432.83,1450.13 433.97,1447.78 435.10,1445.40" fill="none" stroke="#0000ff" stroke-width="7" stroke-linecap="round" stroke-linejoin="round"/>
<polyline points="441.50,1431.06 442.61,1428.42 443.73,1425.74 444.84,1423.02 445.96,1420.26 447.07,1417.46 448.19,1414.63 449.30,1411.77" fill="none" stroke="#0000ff" stroke-width="7" stroke-linecap="round" stroke-linejoin="round"/>
<polyline points="454.60,1397.71 456.20,1393.34" fill="none" stroke="#0000ff" stroke-width="7" stroke-linecap="round" stroke-linejoin="round"/>
<polyline points="469.40,1356.10 470.49,1353.00 471.57,1349.91 472.66,1346.82 473.74,1343.74 474.83,1340.67 475.91,1337.62 477.00,1334.58" fill="none" stroke="#0000ff" stroke-width="7" stroke-linecap="round" stroke-linejoin="round"/>
<polyline points="481.70,1321.63 482.73,1318.84 483.77,1316.07 484.80,1313.33" fill="none" stroke="#0000ff" stroke-width="7" stroke-linecap="round" stroke-linejoin="round"/>
<polyline points="489.60,1300.94 490.67,1298.28 491.73,1295.65 492.80,1293.05" fill="none" stroke="#0000ff" stroke-width="7" stroke-linecap="round" stroke-linejoin="round"/>
<polyline points="498.30,1280.27 499.31,1278.03 500.32,1275.84 501.33,1273.67 502.34,1271.55 503.35,1269.46 504.36,1267.41 505.37,1265.40 506.38,1263.42 507.39,1261.49 508.40,1259.59" fill="none" stroke="#0000ff" stroke-width="7" stroke-linecap="round" stroke-linejoin="round"/>
<polyline points="515.50,1247.29 516.77,1245.29 518.03,1243.35 519.30,1241.46" fill="none" stroke="#0000ff" stroke-width="7" stroke-linecap="round" stroke-linejoin="round"/>
<polyline points="544.60,1214.05 545.62,1213.30 546.63,1212.56 547.65,1211.85 548.67,1211.16 549.68,1210.50 550.70,1209.85 551.72,1209.22 552.73,1208.61 553.75,1208.01 554.77,1207.44 555.78,1206.88 556.80,1206.34 557.82,1205.82 558.83,1205.31 559.85,1204.82 560.87,1204.34 561.88,1203.88 562.90,1203.43" fill="none" stroke="#0000ff" stroke-width="7" stroke-linecap="round" stroke-linejoin="round"/>
<polyline points="576.10,1198.73 577.13,1198.44 578.16,1198.16 579.19,1197.89 580.21,1197.63 581.24,1197.38 582.27,1197.13 583.30,1196.89" fill="none" stroke="#0000ff" stroke-width="7" stroke-linecap="round" stroke-linejoin="round"/>
<rect x="261.9" y="1526.7" width="14.6" height="14.6" fill="#8ebcf7" stroke="#0000ff" stroke-width="4.8" stroke-linejoin="round"/>
<rect x="323.8" y="1513.3" width="14.6" height="14.6" fill="#8ebcf7" stroke="#0000ff" stroke-width="4.8" stroke-linejoin="round"/>
<rect x="392.2" y="1493.8" width="14.6" height="14.6" fill="#2a3cff" stroke="#0000ff" stroke-width="4.8" stroke-linejoin="round"/>
<rect x="454.09999999999997" y="1372.7" width="14.6" height="14.6" fill="#0000ff" stroke="#0000ff" stroke-width="4.8" stroke-linejoin="round"/>
<rect x="522.4000000000001" y="1221.5" width="14.6" height="14.6" fill="#0000ff" stroke="#0000ff" stroke-width="4.8" stroke-linejoin="round"/>
<line x1="522.75" y1="1210.2" x2="536.6500000000001" y2="1210.2" stroke="#0000ff" stroke-width="5.5" stroke-linecap="round"/>
<line x1="522.75" y1="1247.9" x2="536.6500000000001" y2="1247.9" stroke="#0000ff" stroke-width="5.5" stroke-linecap="round"/>
<line x1="529.7" y1="1210.2" x2="529.7" y2="1247.9" stroke="#0000ff" stroke-width="5.2" stroke-linecap="butt"/>
<line x1="454.59999999999997" y1="1367.1" x2="468.2" y2="1367.1" stroke="#0000ff" stroke-width="5.5" stroke-linecap="round"/>
<line x1="454.59999999999997" y1="1392.8" x2="468.2" y2="1392.8" stroke="#0000ff" stroke-width="5.5" stroke-linecap="round"/>
<line x1="461.4" y1="1367.1" x2="461.4" y2="1392.8" stroke="#0000ff" stroke-width="5.2" stroke-linecap="butt"/>
<text font-family="Liberation Serif" font-weight="bold" font-size="51.78" fill="#000" style="font-kerning:none" transform="translate(28.23,1638.37) scale(1.0742,1)">g</text>
<rect x="60.1" y="1631.1" width="8.60" height="8.60" rx="2.6" fill="#000"/>
<text font-family="Liberation Sans" font-weight="bold" font-size="35.47" fill="#0000ff" style="font-kerning:none" transform="translate(166.88,1725.60) scale(0.9799,1)">DEC</text>
<polygon points="142.7,1729 611.9,1722.8 611.9,1730.2 142.7,1736.4" fill="#0000ff"/>
<text font-family="Liberation Sans" font-weight="bold" font-size="34.59" fill="#c00000" style="font-kerning:none" transform="translate(222.40,1773.90) scale(1.0010,1)">2APB</text>
<polygon points="217.9,1783.7 388.1,1781.2 388.1,1788.8 217.9,1791.3" fill="#c00000"/>
<polyline points="68.0,1810.0 70.2,1809.9 71.3,1809.8 73.6,1809.6 76.6,1808.9 79.0,1808.2 81.0,1809.1 82.4,1807.2 84.8,1808.5 86.3,1808.4 89.7,1809.3 90.3,1809.4 93.2,1809.9 95.0,1811.1 96.7,1811.8 99.3,1811.7 101.4,1812.9 101.4,1814.9 104.3,1815.2 105.4,1816.6 107.6,1816.9 109.5,1817.0 112.3,1817.0 114.0,1816.8 116.3,1818.5 117.3,1818.6 120.7,1818.0 123.1,1819.8 123.7,1818.9 126.0,1819.2 128.2,1820.0 130.7,1820.2 133.3,1820.9 136.2,1822.2 137.0,1821.8 139.0,1822.7 141.2,1824.1 144.6,1825.3 145.4,1824.1 148.8,1824.2 151.4,1823.5 152.4,1822.3 155.9,1822.5 157.4,1821.6 160.5,1821.7 162.0,1818.9 163.8,1818.8 164.8,1816.0 166.1,1813.3 167.0,1811.0" fill="none" stroke="#000" stroke-width="10" stroke-linejoin="round" stroke-linecap="round"/>
<polyline points="167.0,1811.0 167.4,1812.6 167.6,1815.9 166.9,1817.0 168.8,1820.4 167.3,1821.8 168.8,1824.3 168.7,1825.0 168.6,1828.2 169.7,1829.3 169.8,1832.3 170.0,1833.0 169.7,1835.6 170.2,1837.7 169.5,1840.3 170.0,1842.6 170.2,1844.1 171.4,1845.2 171.4,1847.1 172.0,1849.1 171.7,1851.7 170.8,1853.8 171.6,1855.8 171.1,1858.0 171.6,1860.9 172.0,1861.9 172.0,1864.9 172.5,1866.3 173.8,1867.8 173.9,1869.6 172.9,1871.1 173.8,1874.7 173.6,1875.9 175.0,1877.6 174.0,1880.0 174.9,1882.9 176.1,1883.5 175.7,1885.8 175.0,1887.9 177.0,1889.6 176.7,1892.4 175.9,1894.8 176.3,1895.6 177.8,1897.0 177.5,1899.3 177.9,1901.0 177.6,1903.4 177.8,1905.2 178.4,1908.0 178.6,1910.6 179.5,1911.5 179.5,1914.7 179.4,1916.5 179.9,1918.9 180.8,1920.2 182.0,1921.2 180.7,1924.4 182.1,1926.4 181.8,1928.0 181.9,1929.9 182.4,1932.2 182.7,1933.5 183.7,1935.2 184.3,1938.0 183.5,1939.2 184.7,1942.0 185.8,1943.7 185.8,1946.8 186.2,1949.0 188.1,1951.0 188.9,1951.5 189.3,1954.2 188.7,1957.0 190.3,1958.6 191.3,1959.0 193.1,1961.0 193.0,1963.7 194.1,1965.3 196.3,1966.4 197.3,1968.2 198.2,1971.2 199.8,1971.9 200.0,1975.6 201.6,1976.4 202.7,1978.9 205.5,1979.6 207.0,1980.0" fill="none" stroke="#000" stroke-width="8.5" stroke-linejoin="round" stroke-linecap="round"/>
<polyline points="207.0,1980.0 208.8,1978.9 211.0,1976.9 213.9,1977.2 215.6,1976.0 216.7,1974.4 218.0,1973.0 220.7,1972.1 222.7,1970.8 222.7,1968.8 224.4,1966.0 225.3,1965.2 227.5,1963.5 228.3,1960.3 228.6,1959.6 230.1,1957.7 231.2,1955.8 233.8,1954.4 235.4,1953.2 236.7,1951.6 237.0,1950.5 238.0,1949.2 240.3,1947.0 242.7,1946.4 242.5,1946.3 244.5,1943.5 245.7,1941.9 248.8,1941.5 250.0,1939.5 251.2,1939.6 253.1,1938.3 255.8,1935.2 257.7,1933.8 259.4,1934.1 261.4,1932.3 263.6,1930.3 265.1,1930.2 266.8,1929.7 269.4,1930.1 271.6,1929.9 273.2,1930.2 275.6,1929.1 276.7,1929.3 278.7,1927.0 280.7,1927.6 283.9,1926.9 285.3,1926.9 287.6,1925.1 288.9,1924.9 290.6,1922.7 293.2,1923.3 294.5,1922.2 297.8,1920.3 297.5,1919.2 299.2,1918.4 301.7,1915.6 302.6,1914.3 302.5,1913.3 303.7,1910.0 305.5,1908.2 306.8,1907.4 308.9,1905.8 310.7,1905.4 312.2,1903.1 313.6,1902.4 315.8,1901.5 318.0,1899.6 320.2,1900.0 321.4,1897.7 323.0,1896.2 325.1,1895.8 328.7,1895.4 330.9,1894.7 332.2,1893.2 333.0,1891.8 335.5,1891.2 337.1,1890.1 339.8,1889.0 341.8,1887.2 344.5,1887.6 346.2,1885.2 347.6,1885.3 349.8,1883.7 349.4,1882.5 352.0,1879.8 354.0,1879.5 355.4,1876.9 356.2,1875.8 356.8,1874.5 358.6,1871.7 359.7,1870.9 360.9,1868.8 362.1,1867.0 362.1,1864.2 364.1,1863.0 365.9,1861.0 366.0,1859.3 367.1,1857.7 368.9,1854.5 368.6,1854.5 369.1,1852.6 370.2,1850.6 372.9,1848.0 373.2,1846.3 375.0,1845.2 375.9,1843.1 377.0,1842.6 378.6,1840.9 378.8,1838.4 380.4,1836.4 382.6,1834.3 383.5,1833.9 385.5,1830.7 385.5,1830.0 388.9,1828.1 390.7,1827.4 392.1,1827.3 393.1,1824.9 395.3,1823.3 397.6,1823.8 400.2,1822.1 402.6,1822.3 403.3,1822.4 406.6,1820.6 408.9,1821.2 409.5,1819.0 412.9,1820.2 413.5,1819.5 417.0,1818.8 419.2,1819.0 420.4,1818.2 423.7,1816.6 425.4,1816.9 427.6,1815.5 428.4,1813.8 430.8,1812.5 433.3,1812.9 434.5,1811.0" fill="none" stroke="#000" stroke-width="10.5" stroke-linejoin="round" stroke-linecap="round"/>
<polyline points="434.5,1811.0 434.3,1813.5 435.4,1814.5 435.9,1817.9 435.2,1818.6 435.5,1822.1 436.1,1824.3 435.8,1825.0 436.4,1828.6 436.3,1829.1 437.8,1831.2 437.9,1833.2 437.4,1836.3 438.9,1837.8 438.4,1839.1 438.5,1841.5 439.7,1844.4 440.0,1846.1 440.1,1847.3 439.8,1849.6 439.9,1852.5 440.1,1853.7 440.6,1856.7 441.6,1858.0 441.5,1860.8 442.9,1861.9 442.5,1864.7 442.2,1865.5 442.3,1868.0 443.9,1869.3 443.5,1873.0 443.9,1873.8 444.9,1876.8 444.2,1877.2 445.0,1880.5 445.8,1882.3 444.8,1884.0 445.1,1885.9 445.7,1888.8 446.8,1890.9 446.3,1893.1 445.9,1895.1 447.2,1897.2 447.1,1899.5 446.7,1901.4 448.6,1902.6 448.9,1904.4 449.1,1907.1 448.7,1908.7 449.8,1911.9 448.7,1914.4 449.4,1915.2 450.1,1917.6 451.4,1920.3 451.3,1921.2 450.6,1922.6 451.8,1925.7 452.0,1928.5 452.3,1929.2 452.7,1930.9 454.1,1933.7 453.6,1935.4 453.4,1937.2 454.3,1939.5 455.6,1941.7 454.4,1942.7 455.0,1945.3 457.0,1948.5 456.7,1950.3 457.8,1951.8 458.7,1952.9 458.5,1956.2 460.5,1957.6 461.7,1960.6 461.2,1961.1 462.4,1964.3 463.0,1964.9 464.8,1966.7 466.6,1969.8 467.0,1971.2 468.2,1972.5 470.0,1975.0" fill="none" stroke="#000" stroke-width="8.5" stroke-linejoin="round" stroke-linecap="round"/>
<polyline points="470.0,1975.0 471.7,1976.8 474.6,1977.8 476.7,1979.2 479.2,1978.4 480.9,1977.7 482.5,1978.0 485.5,1976.6 487.5,1975.2 489.2,1975.8 492.6,1975.7 494.1,1977.7 497.1,1977.7 498.5,1977.1 500.1,1975.3 501.0,1973.5 501.9,1972.0 502.8,1970.9 502.8,1969.0 502.8,1966.8 503.7,1964.1 505.2,1962.5 505.8,1959.4 507.6,1958.1 508.9,1956.3 508.8,1955.3 510.5,1953.0 511.4,1950.9 514.0,1950.3 515.3,1948.0 516.9,1946.8 517.5,1945.1 519.9,1944.0 520.8,1941.6 522.8,1939.7 524.5,1939.5 526.6,1936.8 528.6,1935.2 530.6,1934.3 531.3,1933.5 534.1,1932.5 536.8,1932.9 537.6,1931.5 540.4,1930.1 541.5,1930.2 545.0,1927.7 545.8,1927.6 547.5,1927.2 551.0,1925.7 552.9,1925.6 553.3,1927.0 555.8,1925.9 557.6,1926.5 559.6,1926.4 562.0,1927.4 564.4,1927.1 566.5,1929.0 568.8,1929.2 571.1,1931.1 572.3,1931.5 573.7,1931.8 576.7,1933.7 577.1,1935.4 580.6,1934.6 582.4,1934.5 584.3,1935.2 586.1,1934.0 588.9,1932.9 591.1,1932.9 594.0,1931.9 595.6,1931.1 596.9,1931.0 598.9,1931.7 601.1,1932.0 603.2,1931.4 606.9,1930.3 607.8,1931.3 610.5,1931.5 612.5,1931.0 615.9,1931.4 618.1,1933.1 618.8,1932.9 622.5,1932.6 624.5,1934.5 626.5,1934.7 626.9,1934.3 628.6,1932.8 631.5,1930.8 633.2,1929.8 635.0,1928.0 637.1,1927.5 638.5,1926.6 640.2,1925.1 641.4,1923.5 643.5,1923.4 646.4,1924.4 647.8,1924.7 651.0,1924.5 651.5,1923.8 655.0,1923.4 655.7,1923.8 658.7,1923.9 661.6,1924.0 662.2,1925.9 664.9,1924.9 666.8,1927.5 669.9,1924.6 670.6,1924.7 673.6,1922.8 674.5,1921.2 677.6,1918.9 678.1,1917.4 680.8,1916.0 682.3,1915.9 683.4,1912.7 684.8,1912.1 685.9,1909.8 687.5,1909.6 688.7,1909.0 691.2,1907.0 692.7,1906.7 695.4,1906.1 697.8,1905.3 699.0,1905.5 700.3,1902.8 702.5,1902.6 704.3,1903.2 706.5,1904.6 709.7,1904.9 712.4,1905.0 714.1,1905.8 715.6,1907.2 716.8,1909.7 718.8,1910.5 719.4,1913.5 721.9,1915.5 722.7,1914.2 724.9,1915.4 728.3,1915.5 730.0,1915.5" fill="none" stroke="#000" stroke-width="10" stroke-linejoin="round" stroke-linecap="round"/>
<polyline points="730.0,1915.5 730.8,1913.5 730.6,1912.2 731.0,1909.6 731.1,1907.2 731.7,1905.3 730.7,1903.0 731.5,1900.9 732.0,1898.7 731.9,1896.8 732.1,1895.8 731.8,1891.8 733.3,1890.5 733.0,1888.8 733.1,1886.0 732.6,1885.2 734.7,1881.9 734.1,1879.8 733.5,1878.8 735.3,1875.3 734.4,1874.1 735.8,1871.4 735.2,1868.8 736.3,1867.9 736.7,1864.2 736.6,1863.7 737.3,1860.4 736.6,1857.3 738.2,1855.1 738.8,1854.0 738.3,1852.4 739.5,1849.8 738.0,1847.6 738.8,1844.9 740.1,1843.8 738.6,1840.7 739.3,1839.3 739.4,1837.0 740.6,1834.4 740.6,1832.6 741.1,1831.9 740.0,1829.1 739.7,1826.7 740.8,1825.2 740.4,1821.9 740.0,1821.0 740.2,1818.4 741.2,1817.6 741.0,1814.3 741.1,1812.3 741.5,1810.0 740.4,1808.5 741.7,1805.9 740.2,1803.8 740.2,1802.1 740.6,1800.9 740.5,1798.3 740.5,1796.9 741.5,1794.1 741.5,1791.7 741.6,1790.2 741.0,1787.9 740.1,1785.4 741.3,1783.8 740.5,1782.0" fill="none" stroke="#000" stroke-width="7.5" stroke-linejoin="round" stroke-linecap="round"/>
<line x1="667.5" y1="1922" x2="667.5" y2="1936" stroke="#000" stroke-width="5.5" stroke-linecap="round"/>
<line x1="432.5" y1="1812" x2="432.5" y2="1828" stroke="#000" stroke-width="6" stroke-linecap="round"/>
<polyline points="740.5,1782.0 750.2,1782.0 750.2,1810.0" fill="none" stroke="#000" stroke-width="7.5" stroke-linejoin="round" stroke-linecap="round"/>
<line x1="750" y1="1779" x2="758.5" y2="1779" stroke="#000" stroke-width="6" stroke-linecap="butt"/>
<line x1="297.5" y1="1918" x2="297.5" y2="1935.7" stroke="#000" stroke-width="6" stroke-linecap="round"/>
<line x1="529.5" y1="1940" x2="529.5" y2="1963" stroke="#000" stroke-width="6" stroke-linecap="round"/>
<rect x="52.6" y="1855.4" width="6.199999999999996" height="139.0999999999999" fill="#000"/>
<rect x="52.6" y="1987.5" width="150.8" height="7.0" fill="#000"/>
<text font-family="Liberation Sans" font-weight="bold" font-size="37.50" fill="#000" style="font-kerning:none" transform="translate(43.50,1975.57) rotate(-90) scale(0.9286,1)">500 pA</text>
<text font-family="Liberation Sans" font-weight="bold" font-size="35.88" fill="#000" style="font-kerning:none" transform="translate(60.22,1980.35) scale(0.9733,1)">60 sec</text>
<text font-family="Liberation Sans" font-weight="bold" font-size="55.06" fill="#000" style="font-kerning:none" transform="translate(822.70,1647.00) scale(0.9365,1)">h</text>
<rect x="857.7" y="1638.3" width="8.50" height="8.70" rx="2.6" fill="#000"/>
<line x1="968.7" y1="1589" x2="968.7" y2="2018" stroke="#000" stroke-width="6.5" stroke-linecap="butt"/>
<line x1="959.5" y1="1591.1" x2="968.7" y2="1591.1" stroke="#000" stroke-width="6.5" stroke-linecap="round"/>
<text font-family="Liberation Sans" font-weight="bold" font-size="37.43" fill="#000" style="font-kerning:none" transform="translate(938.59,1603.98) scale(0.9494,1)">0</text>
<line x1="959.5" y1="1690.8999999999999" x2="968.7" y2="1690.8999999999999" stroke="#000" stroke-width="6.5" stroke-linecap="round"/>
<text font-family="Liberation Sans" font-weight="bold" font-size="37.43" fill="#000" style="font-kerning:none" transform="translate(887.11,1703.78) scale(0.9511,1)">-200</text>
<line x1="959.5" y1="1790.6999999999998" x2="968.7" y2="1790.6999999999998" stroke="#000" stroke-width="6.5" stroke-linecap="round"/>
<text font-family="Liberation Sans" font-weight="bold" font-size="37.43" fill="#000" style="font-kerning:none" transform="translate(887.11,1803.58) scale(0.9511,1)">-400</text>
<line x1="959.5" y1="1890.5" x2="968.7" y2="1890.5" stroke="#000" stroke-width="6.5" stroke-linecap="round"/>
<text font-family="Liberation Sans" font-weight="bold" font-size="37.43" fill="#000" style="font-kerning:none" transform="translate(887.11,1903.38) scale(0.9511,1)">-600</text>
<line x1="959.5" y1="1990.3" x2="968.7" y2="1990.3" stroke="#000" stroke-width="6.5" stroke-linecap="round"/>
<text font-family="Liberation Sans" font-weight="bold" font-size="37.43" fill="#000" style="font-kerning:none" transform="translate(887.11,2003.18) scale(0.9511,1)">-800</text>
<line x1="961.5" y1="1641.4" x2="968.7" y2="1641.4" stroke="#000" stroke-width="6" stroke-linecap="round"/>
<line x1="961.5" y1="1741.0" x2="968.7" y2="1741.0" stroke="#000" stroke-width="6" stroke-linecap="round"/>
<line x1="961.5" y1="1840.6000000000001" x2="968.7" y2="1840.6000000000001" stroke="#000" stroke-width="6" stroke-linecap="round"/>
<line x1="961.5" y1="1940.2" x2="968.7" y2="1940.2" stroke="#000" stroke-width="6" stroke-linecap="round"/>
<line x1="965.5" y1="2014.7" x2="1284" y2="2014.7" stroke="#000" stroke-width="6.5" stroke-linecap="round"/>
<text font-family="Liberation Sans" font-weight="bold" font-size="56.98" fill="#000" style="font-kerning:none" transform="translate(1171.92,1594.60) scale(1.0528,1)">***</text>
<circle cx="1205.6" cy="1598" r="7.4" fill="#f9a0a3"/>
<circle cx="1205.6" cy="1612.5" r="7.4" fill="#f9a0a3"/>
<line x1="1153.7" y1="1604.8" x2="1258" y2="1604.8" stroke="#f63b3f" stroke-width="8" stroke-linecap="round"/>
<line x1="1181.7" y1="1604.8" x2="1229.5" y2="1604.8" stroke="#f63b3f" stroke-width="10.5" stroke-linecap="round"/>
<text font-family="Liberation Sans" font-weight="bold" font-size="37.50" fill="#000" style="font-kerning:none" transform="translate(1060.80,1735.97) rotate(-90) scale(0.9452,1)">DEC</text>
<text font-family="Liberation Sans" font-weight="bold" font-size="37.50" fill="#000" style="font-kerning:none" transform="translate(1219.00,1833.59) rotate(-90) scale(0.9569,1)">APB+DEC</text>
<circle cx="1047.6" cy="1846.8" r="7.4" fill="#8ebcf7"/>
<circle cx="1047.6" cy="1862.5" r="7.4" fill="#8ebcf7"/>
<circle cx="1047.6" cy="1923.9" r="7.4" fill="#8ebcf7"/>
<circle cx="1047.6" cy="1943.1" r="7.4" fill="#8ebcf7"/>
<circle cx="1047.6" cy="1983.3" r="7.4" fill="#8ebcf7"/>
<line x1="994.8" y1="1901" x2="1100.2" y2="1901" stroke="#0000ff" stroke-width="7.3" stroke-linecap="round"/>
<line x1="1021.6" y1="1877.5" x2="1073.9" y2="1877.5" stroke="#0000ff" stroke-width="5.2" stroke-linecap="round"/>
<line x1="1021.6" y1="1924.3" x2="1073.9" y2="1924.3" stroke="#0000ff" stroke-width="5.2" stroke-linecap="round"/>
<line x1="1047.8" y1="1877.5" x2="1047.8" y2="1924.3" stroke="#0000ff" stroke-width="5.3" stroke-linecap="butt"/>
<text font-family="Liberation Sans" font-weight="bold" font-size="37.50" fill="#000" style="font-kerning:none" transform="translate(861.50,1875.13) rotate(-90) scale(1.1293,1)">I</text>
<text font-family="Liberation Sans" font-weight="bold" font-size="25.46" fill="#000" style="font-kerning:none" transform="translate(868.85,1865.50) rotate(-90) scale(1.0712,1)">peak</text>
<text font-family="Liberation Sans" font-weight="bold" font-size="37.50" fill="#000" style="font-kerning:none" transform="translate(861.50,1793.14) rotate(-90) scale(0.9294,1)">(pA)</text>
</svg>
</body></html>
